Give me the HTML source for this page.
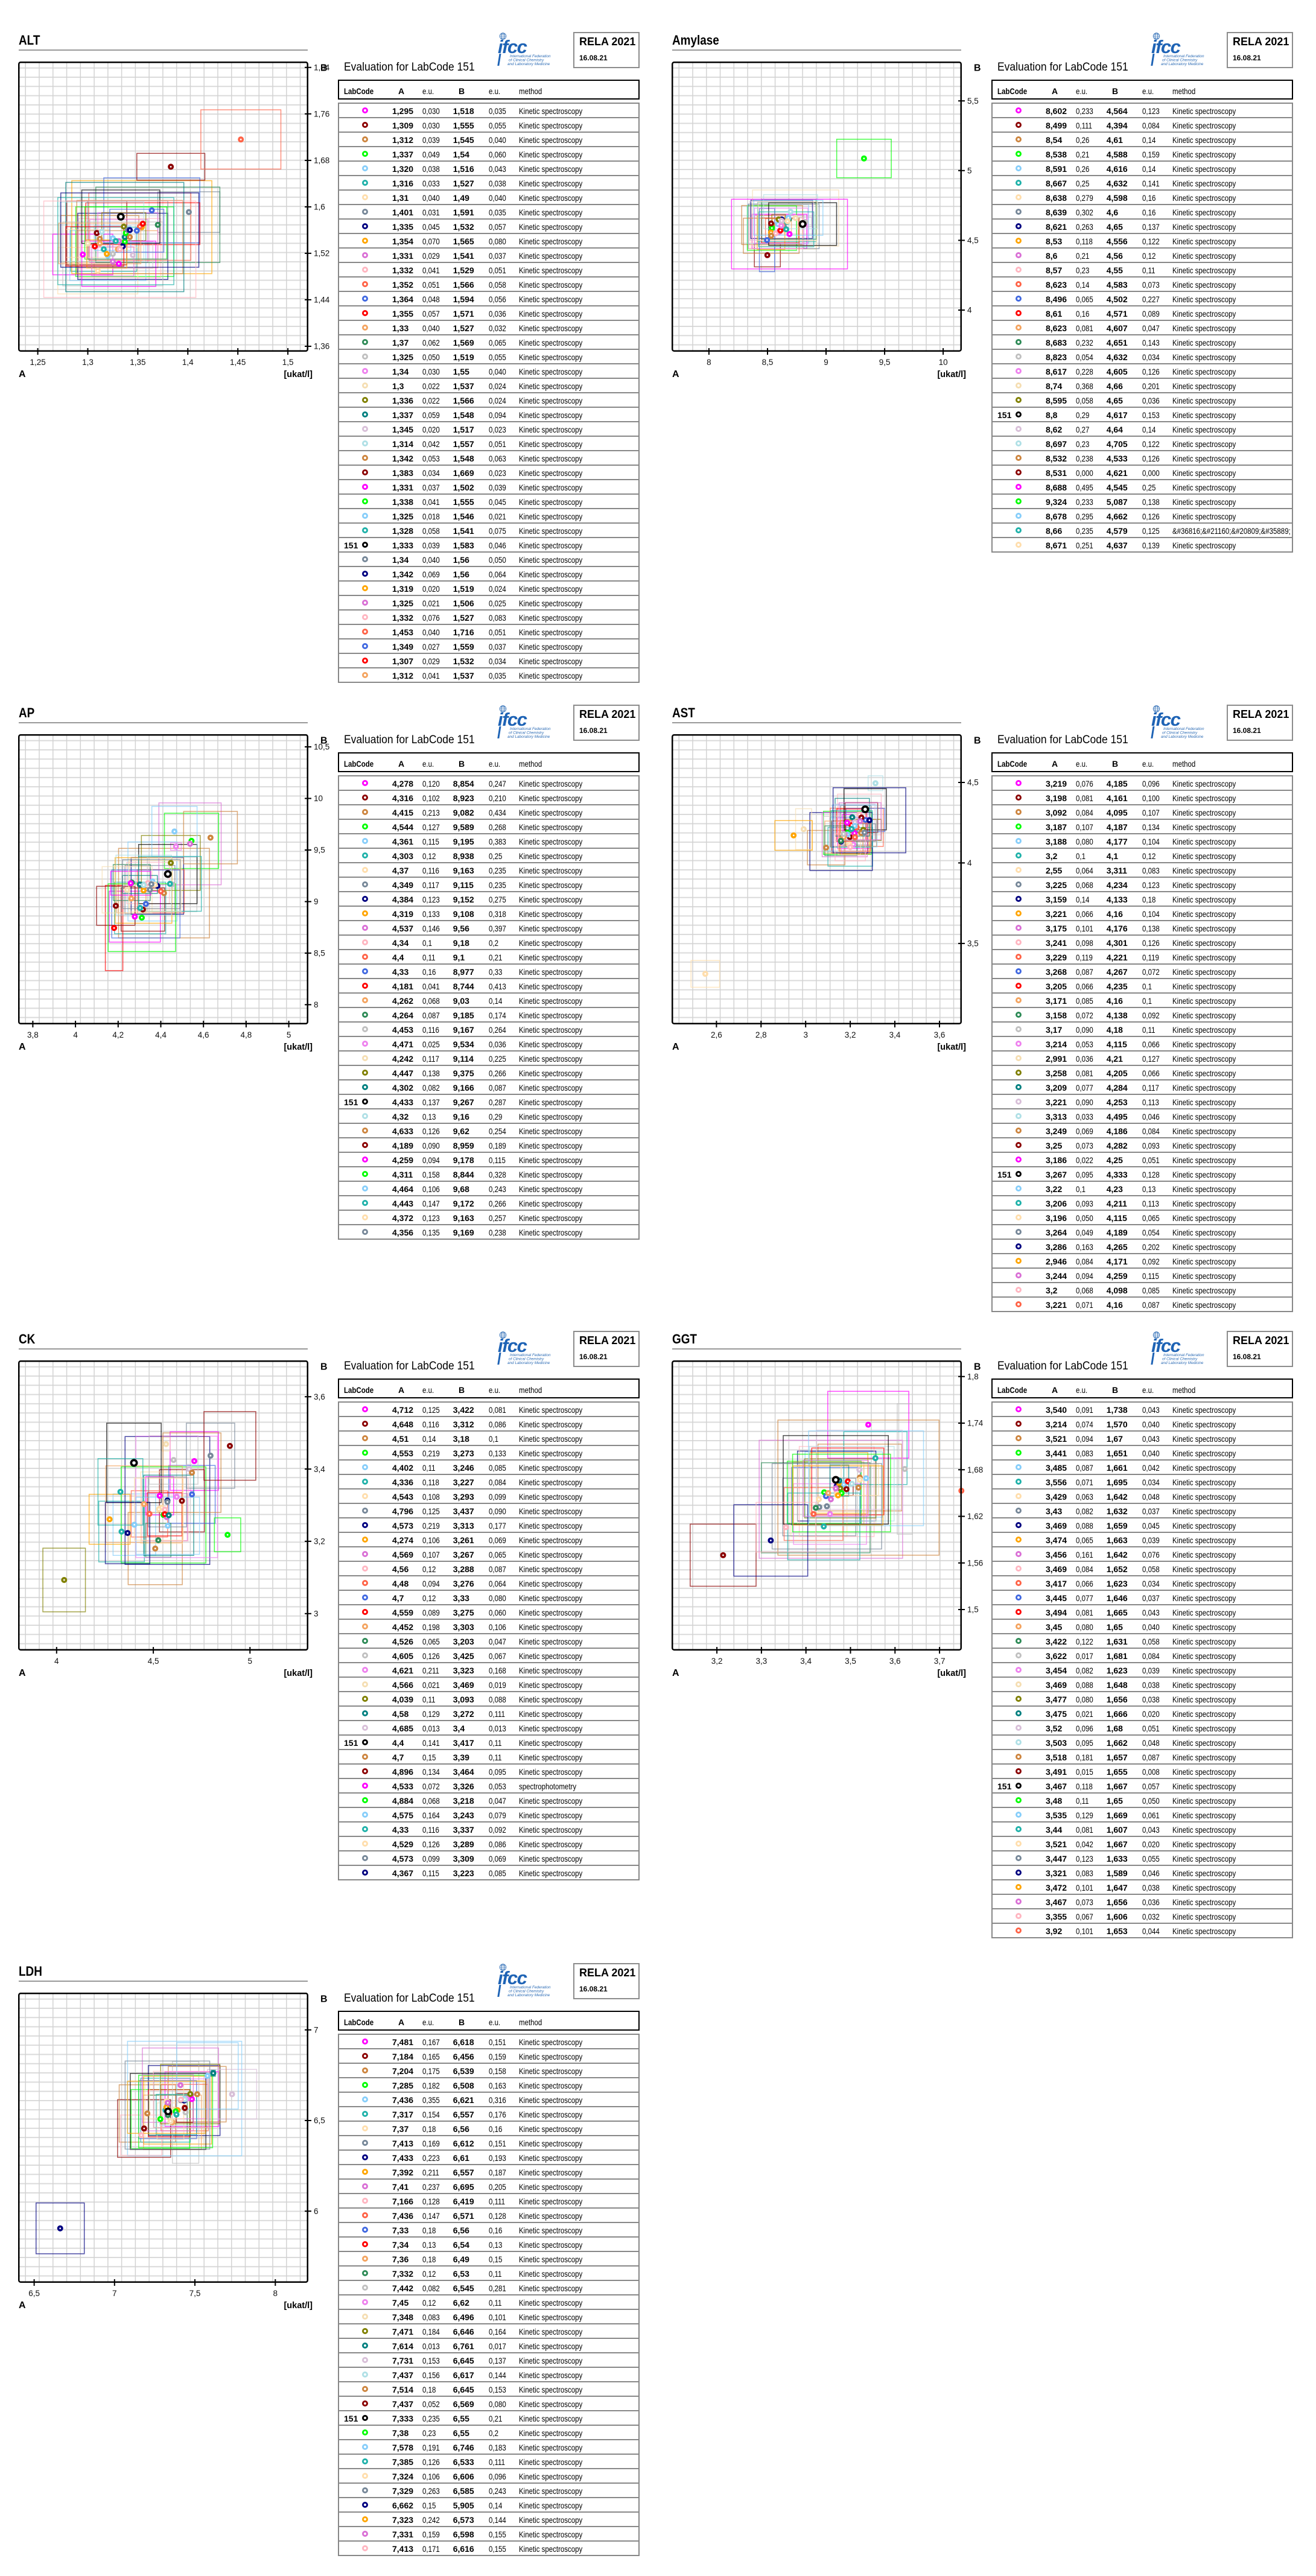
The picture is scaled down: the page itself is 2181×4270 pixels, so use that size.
<!DOCTYPE html>
<html><head><meta charset="utf-8">
<style>
*{margin:0;padding:0;box-sizing:border-box}
html,body{width:2181px;height:4270px;background:#fff;overflow:hidden}
body{position:relative;font-family:"Liberation Sans",Arial,Helvetica,sans-serif;color:#000}
.p{position:absolute;width:1090px;height:1080px}
.ti{position:absolute;left:31px;top:56.4px;font-size:22px;line-height:22px;font-weight:bold;transform:scaleX(.86);transform-origin:0 0;white-space:nowrap}
.ul{position:absolute;left:31px;top:81.7px;width:479px;height:2.6px;background:#999}
.g{position:absolute;left:31px;top:103px;width:479px;height:479px;background-image:linear-gradient(90deg,#d2d2d2 0,#d2d2d2 1.6px,transparent 1.6px),linear-gradient(180deg,#dadada 0,#dadada 2px,transparent 2px);background-size:22.77px 479px,479px 15.3px;background-position:10.5px 0,0 8.7px}
.ch{position:absolute;left:0;top:0;overflow:visible}
.ch text{font-family:"Liberation Sans",Arial,sans-serif}
.ev{position:absolute;left:570px;top:101.7px;font-size:19px;line-height:19px;transform:scaleX(.92);transform-origin:0 0;white-space:nowrap}
.lg{position:absolute;left:815px;top:50px}
.lg text{font-family:"Liberation Sans",Arial,sans-serif}
.rl{position:absolute;left:950px;top:53px;width:110px;height:60px;border:2px solid #8c8c8c}
.rl b{position:absolute;left:8px;white-space:nowrap}
.rl .x1{top:5.3px;font-size:18px;line-height:18px}
.rl .x2{top:35.1px;font-size:12px;line-height:12px}
.hb{position:absolute;left:560px;top:132.3px;width:500px;height:32.4px;border:2.5px solid #000}
.h{position:absolute;top:143.5px;font-size:14px;line-height:14px;white-space:nowrap}
.hs{transform:scaleX(.82);transform-origin:0 0}
.tb{position:absolute;left:560px;top:170px;width:500px;border:2px solid #888;border-bottom:0}
.r{position:relative;height:24px;border-bottom:2px solid #888;overflow:hidden}
.r>*{position:absolute;top:1px;line-height:22px;font-size:14px;white-space:nowrap}
.r i{top:6px;left:37.7px;width:10px;height:10px;border:3.7px solid;border-radius:50%;background:#fff}
.r strong{left:8px}
.r b:nth-of-type(1){left:88px}
.r b:nth-of-type(2){left:188.7px}
.r span{transform:scaleX(.82);transform-origin:0 0}
.r span:nth-of-type(1){left:138px}
.r span:nth-of-type(2){left:248.3px}
.r span:nth-of-type(3){left:298.2px}
</style></head><body>

<!-- ================= ALT ================= -->
<div class="p" style="left:0;top:0">
<div class="ti">ALT</div><div class="ul"></div><div class="g"></div>
<svg class="ch" width="560" height="640"><defs><clipPath id="c1"><rect x="31" y="103" width="479" height="479"/></clipPath><rect id="R1" x="-1" y="-1" width="2" height="2" fill="none" stroke-width="1.5" vector-effect="non-scaling-stroke"/><g id="d1" transform="scale(.00060314 .00103853)"><circle r="5"/><circle r="1.4" fill="#fff"/></g><g id="k1" transform="scale(.00060314 .00103853)"><circle r="6.5" fill="#000"/><circle r="2.8" fill="#fff"/></g></defs>
<g clip-path="url(#c1)"><g transform="matrix(1658 0 0 -962.9 -2009.9 1883.5)" stroke-opacity=".7">
<use href="#R1" transform="translate(1.295 1.518) scale(.03 .035)" stroke="#f0f"/>
<use href="#R1" transform="translate(1.309 1.555) scale(.03 .055)" stroke="#8b0000"/>
<use href="#R1" transform="translate(1.312 1.545) scale(.039 .04)" stroke="#cd853f"/>
<use href="#R1" transform="translate(1.337 1.54) scale(.049 .06)" stroke="#0f0"/>
<use href="#R1" transform="translate(1.32 1.516) scale(.038 .043)" stroke="#87cefa"/>
<use href="#R1" transform="translate(1.316 1.527) scale(.033 .038)" stroke="#20b2aa"/>
<use href="#R1" transform="translate(1.31 1.49) scale(.04 .04)" stroke="#ffdead"/>
<use href="#R1" transform="translate(1.401 1.591) scale(.031 .035)" stroke="#778899"/>
<use href="#R1" transform="translate(1.335 1.532) scale(.045 .057)" stroke="#000080"/>
<use href="#R1" transform="translate(1.354 1.565) scale(.07 .08)" stroke="#ffa500"/>
<use href="#R1" transform="translate(1.331 1.541) scale(.029 .037)" stroke="#da70d6"/>
<use href="#R1" transform="translate(1.332 1.529) scale(.041 .051)" stroke="#ffb6c1"/>
<use href="#R1" transform="translate(1.352 1.566) scale(.051 .058)" stroke="#ff6347"/>
<use href="#R1" transform="translate(1.364 1.594) scale(.048 .056)" stroke="#4169e1"/>
<use href="#R1" transform="translate(1.355 1.571) scale(.057 .036)" stroke="#f00"/>
<use href="#R1" transform="translate(1.33 1.527) scale(.04 .032)" stroke="#f4a460"/>
<use href="#R1" transform="translate(1.37 1.569) scale(.062 .065)" stroke="#2e8b57"/>
<use href="#R1" transform="translate(1.325 1.519) scale(.05 .055)" stroke="#c0c0c0"/>
<use href="#R1" transform="translate(1.34 1.55) scale(.03 .04)" stroke="#ee82ee"/>
<use href="#R1" transform="translate(1.3 1.537) scale(.022 .024)" stroke="#f5deb3"/>
<use href="#R1" transform="translate(1.336 1.566) scale(.022 .024)" stroke="#808000"/>
<use href="#R1" transform="translate(1.337 1.548) scale(.059 .094)" stroke="#008080"/>
<use href="#R1" transform="translate(1.345 1.517) scale(.02 .023)" stroke="#d8bfd8"/>
<use href="#R1" transform="translate(1.314 1.557) scale(.042 .051)" stroke="#b0e0e6"/>
<use href="#R1" transform="translate(1.342 1.548) scale(.053 .063)" stroke="#cd853f"/>
<use href="#R1" transform="translate(1.383 1.669) scale(.034 .023)" stroke="#8b0000"/>
<use href="#R1" transform="translate(1.331 1.502) scale(.037 .039)" stroke="#f0f"/>
<use href="#R1" transform="translate(1.338 1.555) scale(.041 .045)" stroke="#0f0"/>
<use href="#R1" transform="translate(1.325 1.546) scale(.018 .021)" stroke="#87cefa"/>
<use href="#R1" transform="translate(1.328 1.541) scale(.058 .075)" stroke="#20b2aa"/>
<use href="#R1" transform="translate(1.333 1.583) scale(.039 .046)" stroke="#000"/>
<use href="#R1" transform="translate(1.34 1.56) scale(.04 .05)" stroke="#778899"/>
<use href="#R1" transform="translate(1.342 1.56) scale(.069 .064)" stroke="#000080"/>
<use href="#R1" transform="translate(1.319 1.519) scale(.02 .024)" stroke="#ffa500"/>
<use href="#R1" transform="translate(1.325 1.506) scale(.021 .025)" stroke="#da70d6"/>
<use href="#R1" transform="translate(1.332 1.527) scale(.076 .083)" stroke="#ffb6c1"/>
<use href="#R1" transform="translate(1.453 1.716) scale(.04 .051)" stroke="#ff6347"/>
<use href="#R1" transform="translate(1.349 1.559) scale(.027 .037)" stroke="#4169e1"/>
<use href="#R1" transform="translate(1.307 1.532) scale(.029 .034)" stroke="#f00"/>
<use href="#R1" transform="translate(1.312 1.537) scale(.041 .035)" stroke="#f4a460"/>
</g></g>
<g transform="matrix(1658 0 0 -962.9 -2009.9 1883.5)">
<use href="#d1" x="1.295" y="1.518" fill="#f0f"/><use href="#d1" x="1.309" y="1.555" fill="#8b0000"/><use href="#d1" x="1.312" y="1.545" fill="#cd853f"/><use href="#d1" x="1.337" y="1.54" fill="#0f0"/><use href="#d1" x="1.32" y="1.516" fill="#87cefa"/><use href="#d1" x="1.316" y="1.527" fill="#20b2aa"/><use href="#d1" x="1.31" y="1.49" fill="#ffdead"/><use href="#d1" x="1.401" y="1.591" fill="#778899"/><use href="#d1" x="1.335" y="1.532" fill="#000080"/><use href="#d1" x="1.354" y="1.565" fill="#ffa500"/><use href="#d1" x="1.331" y="1.541" fill="#da70d6"/><use href="#d1" x="1.332" y="1.529" fill="#ffb6c1"/><use href="#d1" x="1.352" y="1.566" fill="#ff6347"/><use href="#d1" x="1.364" y="1.594" fill="#4169e1"/><use href="#d1" x="1.355" y="1.571" fill="#f00"/><use href="#d1" x="1.33" y="1.527" fill="#f4a460"/><use href="#d1" x="1.37" y="1.569" fill="#2e8b57"/><use href="#d1" x="1.325" y="1.519" fill="#c0c0c0"/><use href="#d1" x="1.34" y="1.55" fill="#ee82ee"/><use href="#d1" x="1.3" y="1.537" fill="#f5deb3"/><use href="#d1" x="1.336" y="1.566" fill="#808000"/><use href="#d1" x="1.337" y="1.548" fill="#008080"/><use href="#d1" x="1.345" y="1.517" fill="#d8bfd8"/><use href="#d1" x="1.314" y="1.557" fill="#b0e0e6"/><use href="#d1" x="1.342" y="1.548" fill="#cd853f"/><use href="#d1" x="1.383" y="1.669" fill="#8b0000"/><use href="#d1" x="1.331" y="1.502" fill="#f0f"/><use href="#d1" x="1.338" y="1.555" fill="#0f0"/><use href="#d1" x="1.325" y="1.546" fill="#87cefa"/><use href="#d1" x="1.328" y="1.541" fill="#20b2aa"/><use href="#d1" x="1.34" y="1.56" fill="#778899"/><use href="#d1" x="1.342" y="1.56" fill="#000080"/><use href="#d1" x="1.319" y="1.519" fill="#ffa500"/><use href="#d1" x="1.325" y="1.506" fill="#da70d6"/><use href="#d1" x="1.332" y="1.527" fill="#ffb6c1"/><use href="#d1" x="1.453" y="1.716" fill="#ff6347"/><use href="#d1" x="1.349" y="1.559" fill="#4169e1"/><use href="#d1" x="1.307" y="1.532" fill="#f00"/><use href="#d1" x="1.312" y="1.537" fill="#f4a460"/>
<use href="#k1" x="1.333" y="1.583"/>
</g>
<rect x="31.25" y="103.25" width="478.5" height="478.5" rx="3" fill="none" stroke="#000" stroke-width="2.5"/>
<path d="M505 111.8h11M505 188.8h11M505 265.9h11M505 342.9h11M505 419.9h11M505 496.9h11M505 574h11M62.6 577v11M145.5 577v11M228.4 577v11M311.3 577v11M394.2 577v11M477.1 577v11" stroke="#000" stroke-width="2"/>
<g font-size="13.5" fill="#111"><text x="520" y="116.5">1,84</text><text x="520" y="193.5">1,76</text><text x="520" y="270.6">1,68</text><text x="520" y="347.6">1,6</text><text x="520" y="424.6">1,52</text><text x="520" y="501.6">1,44</text><text x="520" y="578.7">1,36</text>
<g text-anchor="middle"><text x="62.6" y="605">1,25</text><text x="145.5" y="605">1,3</text><text x="228.4" y="605">1,35</text><text x="311.3" y="605">1,4</text><text x="394.2" y="605">1,45</text><text x="477.1" y="605">1,5</text></g></g>
<g font-weight="bold"><text x="531" y="117.5" font-size="16">B</text><text x="31" y="625" font-size="16">A</text><text x="518" y="625" font-size="14.5" text-anchor="end">[ukat/l]</text></g>
</svg>
<div class="ev">Evaluation for LabCode 151</div>
<svg class="lg" width="115" height="62"><g fill="none" stroke="#2d6cb5" stroke-width=".8"><circle cx="18.5" cy="10" r="5.3"/><ellipse cx="18.5" cy="10" rx="2.4" ry="5.3"/><path d="M13.2 10h10.6M14 7h9M14 13h9"/></g><text x="10" y="38" font-size="31" font-weight="bold" font-style="italic" fill="#1e63b5" letter-spacing="-1.5">ifcc</text><path d="M12.5 39l-3.2 20h3l3.2-20z" fill="#1e63b5"/><g font-size="6.4" font-style="italic" fill="#2d6cb5"><text x="30" y="45">International Federation</text><text x="28" y="51.5">of Clinical Chemistry</text><text x="26" y="58">and Laboratory Medicine</text></g></svg>
<div class="rl"><b class="x1">RELA 2021</b><b class="x2">16.08.21</b></div>
<div class="hb"></div>
<b class="h hs" style="left:570px">LabCode</b><b class="h" style="left:660px">A</b><span class="h hs" style="left:700px">e.u.</span><b class="h" style="left:760px">B</b><span class="h hs" style="left:810px">e.u.</span><span class="h hs" style="left:860px">method</span>
<div class="tb">
<div class="r"><i style="border-color:#f0f"></i><b>1,295</b><span>0,030</span><b>1,518</b><span>0,035</span><span>Kinetic spectroscopy</span></div>
<div class="r"><i style="border-color:#8b0000"></i><b>1,309</b><span>0,030</span><b>1,555</b><span>0,055</span><span>Kinetic spectroscopy</span></div>
<div class="r"><i style="border-color:#cd853f"></i><b>1,312</b><span>0,039</span><b>1,545</b><span>0,040</span><span>Kinetic spectroscopy</span></div>
<div class="r"><i style="border-color:#0f0"></i><b>1,337</b><span>0,049</span><b>1,54</b><span>0,060</span><span>Kinetic spectroscopy</span></div>
<div class="r"><i style="border-color:#87cefa"></i><b>1,320</b><span>0,038</span><b>1,516</b><span>0,043</span><span>Kinetic spectroscopy</span></div>
<div class="r"><i style="border-color:#20b2aa"></i><b>1,316</b><span>0,033</span><b>1,527</b><span>0,038</span><span>Kinetic spectroscopy</span></div>
<div class="r"><i style="border-color:#ffdead"></i><b>1,31</b><span>0,040</span><b>1,49</b><span>0,040</span><span>Kinetic spectroscopy</span></div>
<div class="r"><i style="border-color:#778899"></i><b>1,401</b><span>0,031</span><b>1,591</b><span>0,035</span><span>Kinetic spectroscopy</span></div>
<div class="r"><i style="border-color:#000080"></i><b>1,335</b><span>0,045</span><b>1,532</b><span>0,057</span><span>Kinetic spectroscopy</span></div>
<div class="r"><i style="border-color:#ffa500"></i><b>1,354</b><span>0,070</span><b>1,565</b><span>0,080</span><span>Kinetic spectroscopy</span></div>
<div class="r"><i style="border-color:#da70d6"></i><b>1,331</b><span>0,029</span><b>1,541</b><span>0,037</span><span>Kinetic spectroscopy</span></div>
<div class="r"><i style="border-color:#ffb6c1"></i><b>1,332</b><span>0,041</span><b>1,529</b><span>0,051</span><span>Kinetic spectroscopy</span></div>
<div class="r"><i style="border-color:#ff6347"></i><b>1,352</b><span>0,051</span><b>1,566</b><span>0,058</span><span>Kinetic spectroscopy</span></div>
<div class="r"><i style="border-color:#4169e1"></i><b>1,364</b><span>0,048</span><b>1,594</b><span>0,056</span><span>Kinetic spectroscopy</span></div>
<div class="r"><i style="border-color:#f00"></i><b>1,355</b><span>0,057</span><b>1,571</b><span>0,036</span><span>Kinetic spectroscopy</span></div>
<div class="r"><i style="border-color:#f4a460"></i><b>1,33</b><span>0,040</span><b>1,527</b><span>0,032</span><span>Kinetic spectroscopy</span></div>
<div class="r"><i style="border-color:#2e8b57"></i><b>1,37</b><span>0,062</span><b>1,569</b><span>0,065</span><span>Kinetic spectroscopy</span></div>
<div class="r"><i style="border-color:#c0c0c0"></i><b>1,325</b><span>0,050</span><b>1,519</b><span>0,055</span><span>Kinetic spectroscopy</span></div>
<div class="r"><i style="border-color:#ee82ee"></i><b>1,34</b><span>0,030</span><b>1,55</b><span>0,040</span><span>Kinetic spectroscopy</span></div>
<div class="r"><i style="border-color:#f5deb3"></i><b>1,3</b><span>0,022</span><b>1,537</b><span>0,024</span><span>Kinetic spectroscopy</span></div>
<div class="r"><i style="border-color:#808000"></i><b>1,336</b><span>0,022</span><b>1,566</b><span>0,024</span><span>Kinetic spectroscopy</span></div>
<div class="r"><i style="border-color:#008080"></i><b>1,337</b><span>0,059</span><b>1,548</b><span>0,094</span><span>Kinetic spectroscopy</span></div>
<div class="r"><i style="border-color:#d8bfd8"></i><b>1,345</b><span>0,020</span><b>1,517</b><span>0,023</span><span>Kinetic spectroscopy</span></div>
<div class="r"><i style="border-color:#b0e0e6"></i><b>1,314</b><span>0,042</span><b>1,557</b><span>0,051</span><span>Kinetic spectroscopy</span></div>
<div class="r"><i style="border-color:#cd853f"></i><b>1,342</b><span>0,053</span><b>1,548</b><span>0,063</span><span>Kinetic spectroscopy</span></div>
<div class="r"><i style="border-color:#8b0000"></i><b>1,383</b><span>0,034</span><b>1,669</b><span>0,023</span><span>Kinetic spectroscopy</span></div>
<div class="r"><i style="border-color:#f0f"></i><b>1,331</b><span>0,037</span><b>1,502</b><span>0,039</span><span>Kinetic spectroscopy</span></div>
<div class="r"><i style="border-color:#0f0"></i><b>1,338</b><span>0,041</span><b>1,555</b><span>0,045</span><span>Kinetic spectroscopy</span></div>
<div class="r"><i style="border-color:#87cefa"></i><b>1,325</b><span>0,018</span><b>1,546</b><span>0,021</span><span>Kinetic spectroscopy</span></div>
<div class="r"><i style="border-color:#20b2aa"></i><b>1,328</b><span>0,058</span><b>1,541</b><span>0,075</span><span>Kinetic spectroscopy</span></div>
<div class="r"><strong>151</strong><i style="border-color:#000"></i><b>1,333</b><span>0,039</span><b>1,583</b><span>0,046</span><span>Kinetic spectroscopy</span></div>
<div class="r"><i style="border-color:#778899"></i><b>1,34</b><span>0,040</span><b>1,56</b><span>0,050</span><span>Kinetic spectroscopy</span></div>
<div class="r"><i style="border-color:#000080"></i><b>1,342</b><span>0,069</span><b>1,56</b><span>0,064</span><span>Kinetic spectroscopy</span></div>
<div class="r"><i style="border-color:#ffa500"></i><b>1,319</b><span>0,020</span><b>1,519</b><span>0,024</span><span>Kinetic spectroscopy</span></div>
<div class="r"><i style="border-color:#da70d6"></i><b>1,325</b><span>0,021</span><b>1,506</b><span>0,025</span><span>Kinetic spectroscopy</span></div>
<div class="r"><i style="border-color:#ffb6c1"></i><b>1,332</b><span>0,076</span><b>1,527</b><span>0,083</span><span>Kinetic spectroscopy</span></div>
<div class="r"><i style="border-color:#ff6347"></i><b>1,453</b><span>0,040</span><b>1,716</b><span>0,051</span><span>Kinetic spectroscopy</span></div>
<div class="r"><i style="border-color:#4169e1"></i><b>1,349</b><span>0,027</span><b>1,559</b><span>0,037</span><span>Kinetic spectroscopy</span></div>
<div class="r"><i style="border-color:#f00"></i><b>1,307</b><span>0,029</span><b>1,532</b><span>0,034</span><span>Kinetic spectroscopy</span></div>
<div class="r"><i style="border-color:#f4a460"></i><b>1,312</b><span>0,041</span><b>1,537</b><span>0,035</span><span>Kinetic spectroscopy</span></div>
</div>
</div>

<!-- ================= Amylase ================= -->
<div class="p" style="left:1083px;top:0">
<div class="ti">Amylase</div><div class="ul"></div><div class="g"></div>
<svg class="ch" width="560" height="640"><defs><clipPath id="c2"><rect x="31" y="103" width="479" height="479"/></clipPath><rect id="R2" x="-1" y="-1" width="2" height="2" fill="none" stroke-width="1.5" vector-effect="non-scaling-stroke"/><g id="d2" transform="scale(.005152 .0043253)"><circle r="5"/><circle r="1.4" fill="#fff"/></g><g id="k2" transform="scale(.005152 .0043253)"><circle r="6.5" fill="#000"/><circle r="2.8" fill="#fff"/></g></defs>
<g clip-path="url(#c2)"><g transform="matrix(194.1 0 0 -231.2 -1460.9 1438.8)" stroke-opacity=".7">
<use href="#R2" transform="translate(8.602 4.564) scale(.233 .123)" stroke="#f0f"/>
<use href="#R2" transform="translate(8.499 4.394) scale(.111 .084)" stroke="#8b0000"/>
<use href="#R2" transform="translate(8.54 4.61) scale(.26 .14)" stroke="#cd853f"/>
<use href="#R2" transform="translate(8.538 4.588) scale(.21 .159)" stroke="#0f0"/>
<use href="#R2" transform="translate(8.591 4.616) scale(.26 .14)" stroke="#87cefa"/>
<use href="#R2" transform="translate(8.667 4.632) scale(.25 .141)" stroke="#20b2aa"/>
<use href="#R2" transform="translate(8.638 4.598) scale(.279 .16)" stroke="#ffdead"/>
<use href="#R2" transform="translate(8.639 4.6) scale(.302 .16)" stroke="#778899"/>
<use href="#R2" transform="translate(8.621 4.65) scale(.263 .137)" stroke="#000080"/>
<use href="#R2" transform="translate(8.53 4.556) scale(.118 .122)" stroke="#ffa500"/>
<use href="#R2" transform="translate(8.6 4.56) scale(.21 .12)" stroke="#da70d6"/>
<use href="#R2" transform="translate(8.57 4.55) scale(.23 .11)" stroke="#ffb6c1"/>
<use href="#R2" transform="translate(8.623 4.583) scale(.14 .073)" stroke="#ff6347"/>
<use href="#R2" transform="translate(8.496 4.502) scale(.065 .227)" stroke="#4169e1"/>
<use href="#R2" transform="translate(8.61 4.571) scale(.16 .089)" stroke="#f00"/>
<use href="#R2" transform="translate(8.623 4.607) scale(.081 .047)" stroke="#f4a460"/>
<use href="#R2" transform="translate(8.683 4.651) scale(.232 .143)" stroke="#2e8b57"/>
<use href="#R2" transform="translate(8.823 4.632) scale(.054 .034)" stroke="#c0c0c0"/>
<use href="#R2" transform="translate(8.617 4.605) scale(.228 .126)" stroke="#ee82ee"/>
<use href="#R2" transform="translate(8.74 4.66) scale(.368 .201)" stroke="#f5deb3"/>
<use href="#R2" transform="translate(8.595 4.65) scale(.058 .036)" stroke="#808000"/>
<use href="#R2" transform="translate(8.8 4.617) scale(.29 .153)" stroke="#000"/>
<use href="#R2" transform="translate(8.62 4.64) scale(.27 .14)" stroke="#d8bfd8"/>
<use href="#R2" transform="translate(8.697 4.705) scale(.23 .122)" stroke="#b0e0e6"/>
<use href="#R2" transform="translate(8.532 4.533) scale(.238 .126)" stroke="#cd853f"/>
<use href="#R2" transform="translate(8.688 4.545) scale(.495 .25)" stroke="#f0f"/>
<use href="#R2" transform="translate(9.324 5.087) scale(.233 .138)" stroke="#0f0"/>
<use href="#R2" transform="translate(8.678 4.662) scale(.295 .126)" stroke="#87cefa"/>
<use href="#R2" transform="translate(8.66 4.579) scale(.235 .125)" stroke="#20b2aa"/>
<use href="#R2" transform="translate(8.671 4.637) scale(.251 .139)" stroke="#ffdead"/>
</g></g>
<g transform="matrix(194.1 0 0 -231.2 -1460.9 1438.8)">
<use href="#d2" x="8.602" y="4.564" fill="#f0f"/><use href="#d2" x="8.499" y="4.394" fill="#8b0000"/><use href="#d2" x="8.54" y="4.61" fill="#cd853f"/><use href="#d2" x="8.538" y="4.588" fill="#0f0"/><use href="#d2" x="8.591" y="4.616" fill="#87cefa"/><use href="#d2" x="8.667" y="4.632" fill="#20b2aa"/><use href="#d2" x="8.638" y="4.598" fill="#ffdead"/><use href="#d2" x="8.639" y="4.6" fill="#778899"/><use href="#d2" x="8.621" y="4.65" fill="#000080"/><use href="#d2" x="8.53" y="4.556" fill="#ffa500"/><use href="#d2" x="8.6" y="4.56" fill="#da70d6"/><use href="#d2" x="8.57" y="4.55" fill="#ffb6c1"/><use href="#d2" x="8.623" y="4.583" fill="#ff6347"/><use href="#d2" x="8.496" y="4.502" fill="#4169e1"/><use href="#d2" x="8.61" y="4.571" fill="#f00"/><use href="#d2" x="8.623" y="4.607" fill="#f4a460"/><use href="#d2" x="8.683" y="4.651" fill="#2e8b57"/><use href="#d2" x="8.823" y="4.632" fill="#c0c0c0"/><use href="#d2" x="8.617" y="4.605" fill="#ee82ee"/><use href="#d2" x="8.74" y="4.66" fill="#f5deb3"/><use href="#d2" x="8.595" y="4.65" fill="#808000"/><use href="#d2" x="8.62" y="4.64" fill="#d8bfd8"/><use href="#d2" x="8.697" y="4.705" fill="#b0e0e6"/><use href="#d2" x="8.532" y="4.533" fill="#cd853f"/><use href="#d2" x="8.531" y="4.621" fill="#8b0000"/><use href="#d2" x="8.688" y="4.545" fill="#f0f"/><use href="#d2" x="9.324" y="5.087" fill="#0f0"/><use href="#d2" x="8.678" y="4.662" fill="#87cefa"/><use href="#d2" x="8.66" y="4.579" fill="#20b2aa"/><use href="#d2" x="8.671" y="4.637" fill="#ffdead"/>
<use href="#k2" x="8.8" y="4.617"/>
</g>
<rect x="31.25" y="103.25" width="478.5" height="478.5" rx="3" fill="none" stroke="#000" stroke-width="2.5"/>
<path d="M505 167.2h11M505 282.8h11M505 398.4h11M505 514h11M91.9 577v11M189 577v11M286 577v11M383.1 577v11M480.1 577v11" stroke="#000" stroke-width="2"/>
<g font-size="13.5" fill="#111"><text x="520" y="171.9">5,5</text><text x="520" y="287.5">5</text><text x="520" y="403.1">4,5</text><text x="520" y="518.7">4</text>
<g text-anchor="middle"><text x="91.9" y="605">8</text><text x="189" y="605">8,5</text><text x="286" y="605">9</text><text x="383.1" y="605">9,5</text><text x="480.1" y="605">10</text></g></g>
<g font-weight="bold"><text x="531" y="117.5" font-size="16">B</text><text x="31" y="625" font-size="16">A</text><text x="518" y="625" font-size="14.5" text-anchor="end">[ukat/l]</text></g>
</svg>
<div class="ev">Evaluation for LabCode 151</div>
<svg class="lg" width="115" height="62"><g fill="none" stroke="#2d6cb5" stroke-width=".8"><circle cx="18.5" cy="10" r="5.3"/><ellipse cx="18.5" cy="10" rx="2.4" ry="5.3"/><path d="M13.2 10h10.6M14 7h9M14 13h9"/></g><text x="10" y="38" font-size="31" font-weight="bold" font-style="italic" fill="#1e63b5" letter-spacing="-1.5">ifcc</text><path d="M12.5 39l-3.2 20h3l3.2-20z" fill="#1e63b5"/><g font-size="6.4" font-style="italic" fill="#2d6cb5"><text x="30" y="45">International Federation</text><text x="28" y="51.5">of Clinical Chemistry</text><text x="26" y="58">and Laboratory Medicine</text></g></svg>
<div class="rl"><b class="x1">RELA 2021</b><b class="x2">16.08.21</b></div>
<div class="hb"></div>
<b class="h hs" style="left:570px">LabCode</b><b class="h" style="left:660px">A</b><span class="h hs" style="left:700px">e.u.</span><b class="h" style="left:760px">B</b><span class="h hs" style="left:810px">e.u.</span><span class="h hs" style="left:860px">method</span>
<div class="tb">
<div class="r"><i style="border-color:#f0f"></i><b>8,602</b><span>0,233</span><b>4,564</b><span>0,123</span><span>Kinetic spectroscopy</span></div>
<div class="r"><i style="border-color:#8b0000"></i><b>8,499</b><span>0,111</span><b>4,394</b><span>0,084</span><span>Kinetic spectroscopy</span></div>
<div class="r"><i style="border-color:#cd853f"></i><b>8,54</b><span>0,26</span><b>4,61</b><span>0,14</span><span>Kinetic spectroscopy</span></div>
<div class="r"><i style="border-color:#0f0"></i><b>8,538</b><span>0,21</span><b>4,588</b><span>0,159</span><span>Kinetic spectroscopy</span></div>
<div class="r"><i style="border-color:#87cefa"></i><b>8,591</b><span>0,26</span><b>4,616</b><span>0,14</span><span>Kinetic spectroscopy</span></div>
<div class="r"><i style="border-color:#20b2aa"></i><b>8,667</b><span>0,25</span><b>4,632</b><span>0,141</span><span>Kinetic spectroscopy</span></div>
<div class="r"><i style="border-color:#ffdead"></i><b>8,638</b><span>0,279</span><b>4,598</b><span>0,16</span><span>Kinetic spectroscopy</span></div>
<div class="r"><i style="border-color:#778899"></i><b>8,639</b><span>0,302</span><b>4,6</b><span>0,16</span><span>Kinetic spectroscopy</span></div>
<div class="r"><i style="border-color:#000080"></i><b>8,621</b><span>0,263</span><b>4,65</b><span>0,137</span><span>Kinetic spectroscopy</span></div>
<div class="r"><i style="border-color:#ffa500"></i><b>8,53</b><span>0,118</span><b>4,556</b><span>0,122</span><span>Kinetic spectroscopy</span></div>
<div class="r"><i style="border-color:#da70d6"></i><b>8,6</b><span>0,21</span><b>4,56</b><span>0,12</span><span>Kinetic spectroscopy</span></div>
<div class="r"><i style="border-color:#ffb6c1"></i><b>8,57</b><span>0,23</span><b>4,55</b><span>0,11</span><span>Kinetic spectroscopy</span></div>
<div class="r"><i style="border-color:#ff6347"></i><b>8,623</b><span>0,14</span><b>4,583</b><span>0,073</span><span>Kinetic spectroscopy</span></div>
<div class="r"><i style="border-color:#4169e1"></i><b>8,496</b><span>0,065</span><b>4,502</b><span>0,227</span><span>Kinetic spectroscopy</span></div>
<div class="r"><i style="border-color:#f00"></i><b>8,61</b><span>0,16</span><b>4,571</b><span>0,089</span><span>Kinetic spectroscopy</span></div>
<div class="r"><i style="border-color:#f4a460"></i><b>8,623</b><span>0,081</span><b>4,607</b><span>0,047</span><span>Kinetic spectroscopy</span></div>
<div class="r"><i style="border-color:#2e8b57"></i><b>8,683</b><span>0,232</span><b>4,651</b><span>0,143</span><span>Kinetic spectroscopy</span></div>
<div class="r"><i style="border-color:#c0c0c0"></i><b>8,823</b><span>0,054</span><b>4,632</b><span>0,034</span><span>Kinetic spectroscopy</span></div>
<div class="r"><i style="border-color:#ee82ee"></i><b>8,617</b><span>0,228</span><b>4,605</b><span>0,126</span><span>Kinetic spectroscopy</span></div>
<div class="r"><i style="border-color:#f5deb3"></i><b>8,74</b><span>0,368</span><b>4,66</b><span>0,201</span><span>Kinetic spectroscopy</span></div>
<div class="r"><i style="border-color:#808000"></i><b>8,595</b><span>0,058</span><b>4,65</b><span>0,036</span><span>Kinetic spectroscopy</span></div>
<div class="r"><strong>151</strong><i style="border-color:#000"></i><b>8,8</b><span>0,29</span><b>4,617</b><span>0,153</span><span>Kinetic spectroscopy</span></div>
<div class="r"><i style="border-color:#d8bfd8"></i><b>8,62</b><span>0,27</span><b>4,64</b><span>0,14</span><span>Kinetic spectroscopy</span></div>
<div class="r"><i style="border-color:#b0e0e6"></i><b>8,697</b><span>0,23</span><b>4,705</b><span>0,122</span><span>Kinetic spectroscopy</span></div>
<div class="r"><i style="border-color:#cd853f"></i><b>8,532</b><span>0,238</span><b>4,533</b><span>0,126</span><span>Kinetic spectroscopy</span></div>
<div class="r"><i style="border-color:#8b0000"></i><b>8,531</b><span>0,000</span><b>4,621</b><span>0,000</span><span>Kinetic spectroscopy</span></div>
<div class="r"><i style="border-color:#f0f"></i><b>8,688</b><span>0,495</span><b>4,545</b><span>0,25</span><span>Kinetic spectroscopy</span></div>
<div class="r"><i style="border-color:#0f0"></i><b>9,324</b><span>0,233</span><b>5,087</b><span>0,138</span><span>Kinetic spectroscopy</span></div>
<div class="r"><i style="border-color:#87cefa"></i><b>8,678</b><span>0,295</span><b>4,662</b><span>0,126</span><span>Kinetic spectroscopy</span></div>
<div class="r"><i style="border-color:#20b2aa"></i><b>8,66</b><span>0,235</span><b>4,579</b><span>0,125</span><span>&amp;#36816;&amp;#21160;&amp;#20809;&amp;#35889;</span></div>
<div class="r"><i style="border-color:#ffdead"></i><b>8,671</b><span>0,251</span><b>4,637</b><span>0,139</span><span>Kinetic spectroscopy</span></div>
</div>
</div>

<!-- ================= AP ================= -->
<div class="p" style="left:0;top:1115px">
<div class="ti">AP</div><div class="ul"></div><div class="g"></div>
<svg class="ch" width="560" height="640"><defs><clipPath id="c3"><rect x="31" y="103" width="479" height="479"/></clipPath><rect id="R3" x="-1" y="-1" width="2" height="2" fill="none" stroke-width="1.5" vector-effect="non-scaling-stroke"/><g id="d3" transform="scale(.0028289 .0058493)"><circle r="5"/><circle r="1.4" fill="#fff"/></g><g id="k3" transform="scale(.0028289 .0058493)"><circle r="6.5" fill="#000"/><circle r="2.8" fill="#fff"/></g></defs>
<g clip-path="url(#c3)"><g transform="matrix(353.5 0 0 -170.96 -1288.9 1918.1)" stroke-opacity=".7">
<use href="#R3" transform="translate(4.278 8.854) scale(.12 .247)" stroke="#f0f"/>
<use href="#R3" transform="translate(4.316 8.923) scale(.102 .21)" stroke="#8b0000"/>
<use href="#R3" transform="translate(4.415 9.082) scale(.213 .434)" stroke="#cd853f"/>
<use href="#R3" transform="translate(4.544 9.589) scale(.127 .268)" stroke="#0f0"/>
<use href="#R3" transform="translate(4.361 9.195) scale(.115 .383)" stroke="#87cefa"/>
<use href="#R3" transform="translate(4.303 8.938) scale(.12 .25)" stroke="#20b2aa"/>
<use href="#R3" transform="translate(4.37 9.163) scale(.116 .235)" stroke="#ffdead"/>
<use href="#R3" transform="translate(4.349 9.115) scale(.117 .235)" stroke="#778899"/>
<use href="#R3" transform="translate(4.384 9.152) scale(.123 .275)" stroke="#000080"/>
<use href="#R3" transform="translate(4.319 9.108) scale(.133 .318)" stroke="#ffa500"/>
<use href="#R3" transform="translate(4.537 9.56) scale(.146 .397)" stroke="#da70d6"/>
<use href="#R3" transform="translate(4.34 9.18) scale(.1 .2)" stroke="#ffb6c1"/>
<use href="#R3" transform="translate(4.4 9.1) scale(.11 .21)" stroke="#ff6347"/>
<use href="#R3" transform="translate(4.33 8.977) scale(.16 .33)" stroke="#4169e1"/>
<use href="#R3" transform="translate(4.181 8.744) scale(.041 .413)" stroke="#f00"/>
<use href="#R3" transform="translate(4.262 9.03) scale(.068 .14)" stroke="#f4a460"/>
<use href="#R3" transform="translate(4.264 9.185) scale(.087 .174)" stroke="#2e8b57"/>
<use href="#R3" transform="translate(4.453 9.167) scale(.116 .264)" stroke="#c0c0c0"/>
<use href="#R3" transform="translate(4.471 9.534) scale(.025 .036)" stroke="#ee82ee"/>
<use href="#R3" transform="translate(4.242 9.114) scale(.117 .225)" stroke="#f5deb3"/>
<use href="#R3" transform="translate(4.447 9.375) scale(.138 .266)" stroke="#808000"/>
<use href="#R3" transform="translate(4.302 9.166) scale(.082 .087)" stroke="#008080"/>
<use href="#R3" transform="translate(4.433 9.267) scale(.137 .287)" stroke="#000"/>
<use href="#R3" transform="translate(4.32 9.16) scale(.13 .29)" stroke="#b0e0e6"/>
<use href="#R3" transform="translate(4.633 9.62) scale(.126 .254)" stroke="#cd853f"/>
<use href="#R3" transform="translate(4.189 8.959) scale(.09 .189)" stroke="#8b0000"/>
<use href="#R3" transform="translate(4.259 9.178) scale(.094 .115)" stroke="#f0f"/>
<use href="#R3" transform="translate(4.311 8.844) scale(.158 .328)" stroke="#0f0"/>
<use href="#R3" transform="translate(4.464 9.68) scale(.106 .243)" stroke="#87cefa"/>
<use href="#R3" transform="translate(4.443 9.172) scale(.147 .266)" stroke="#20b2aa"/>
<use href="#R3" transform="translate(4.372 9.163) scale(.123 .257)" stroke="#ffdead"/>
<use href="#R3" transform="translate(4.356 9.169) scale(.135 .238)" stroke="#778899"/>
</g></g>
<g transform="matrix(353.5 0 0 -170.96 -1288.9 1918.1)">
<use href="#d3" x="4.278" y="8.854" fill="#f0f"/><use href="#d3" x="4.316" y="8.923" fill="#8b0000"/><use href="#d3" x="4.415" y="9.082" fill="#cd853f"/><use href="#d3" x="4.544" y="9.589" fill="#0f0"/><use href="#d3" x="4.361" y="9.195" fill="#87cefa"/><use href="#d3" x="4.303" y="8.938" fill="#20b2aa"/><use href="#d3" x="4.37" y="9.163" fill="#ffdead"/><use href="#d3" x="4.349" y="9.115" fill="#778899"/><use href="#d3" x="4.384" y="9.152" fill="#000080"/><use href="#d3" x="4.319" y="9.108" fill="#ffa500"/><use href="#d3" x="4.537" y="9.56" fill="#da70d6"/><use href="#d3" x="4.34" y="9.18" fill="#ffb6c1"/><use href="#d3" x="4.4" y="9.1" fill="#ff6347"/><use href="#d3" x="4.33" y="8.977" fill="#4169e1"/><use href="#d3" x="4.181" y="8.744" fill="#f00"/><use href="#d3" x="4.262" y="9.03" fill="#f4a460"/><use href="#d3" x="4.264" y="9.185" fill="#2e8b57"/><use href="#d3" x="4.453" y="9.167" fill="#c0c0c0"/><use href="#d3" x="4.471" y="9.534" fill="#ee82ee"/><use href="#d3" x="4.242" y="9.114" fill="#f5deb3"/><use href="#d3" x="4.447" y="9.375" fill="#808000"/><use href="#d3" x="4.302" y="9.166" fill="#008080"/><use href="#d3" x="4.32" y="9.16" fill="#b0e0e6"/><use href="#d3" x="4.633" y="9.62" fill="#cd853f"/><use href="#d3" x="4.189" y="8.959" fill="#8b0000"/><use href="#d3" x="4.259" y="9.178" fill="#f0f"/><use href="#d3" x="4.311" y="8.844" fill="#0f0"/><use href="#d3" x="4.464" y="9.68" fill="#87cefa"/><use href="#d3" x="4.443" y="9.172" fill="#20b2aa"/><use href="#d3" x="4.372" y="9.163" fill="#ffdead"/><use href="#d3" x="4.356" y="9.169" fill="#778899"/>
<use href="#k3" x="4.433" y="9.267"/>
</g>
<rect x="31.25" y="103.25" width="478.5" height="478.5" rx="3" fill="none" stroke="#000" stroke-width="2.5"/>
<path d="M505 123h11M505 208.5h11M505 294h11M505 379.5h11M505 464.9h11M505 550.4h11M54.4 577v11M125.1 577v11M195.8 577v11M266.5 577v11M337.2 577v11M407.9 577v11M478.6 577v11" stroke="#000" stroke-width="2"/>
<g font-size="13.5" fill="#111"><text x="520" y="127.7">10,5</text><text x="520" y="213.2">10</text><text x="520" y="298.7">9,5</text><text x="520" y="384.2">9</text><text x="520" y="469.6">8,5</text><text x="520" y="555.1">8</text>
<g text-anchor="middle"><text x="54.4" y="605">3,8</text><text x="125.1" y="605">4</text><text x="195.8" y="605">4,2</text><text x="266.5" y="605">4,4</text><text x="337.2" y="605">4,6</text><text x="407.9" y="605">4,8</text><text x="478.6" y="605">5</text></g></g>
<g font-weight="bold"><text x="531" y="117.5" font-size="16">B</text><text x="31" y="625" font-size="16">A</text><text x="518" y="625" font-size="14.5" text-anchor="end">[ukat/l]</text></g>
</svg>
<div class="ev">Evaluation for LabCode 151</div>
<svg class="lg" width="115" height="62"><g fill="none" stroke="#2d6cb5" stroke-width=".8"><circle cx="18.5" cy="10" r="5.3"/><ellipse cx="18.5" cy="10" rx="2.4" ry="5.3"/><path d="M13.2 10h10.6M14 7h9M14 13h9"/></g><text x="10" y="38" font-size="31" font-weight="bold" font-style="italic" fill="#1e63b5" letter-spacing="-1.5">ifcc</text><path d="M12.5 39l-3.2 20h3l3.2-20z" fill="#1e63b5"/><g font-size="6.4" font-style="italic" fill="#2d6cb5"><text x="30" y="45">International Federation</text><text x="28" y="51.5">of Clinical Chemistry</text><text x="26" y="58">and Laboratory Medicine</text></g></svg>
<div class="rl"><b class="x1">RELA 2021</b><b class="x2">16.08.21</b></div>
<div class="hb"></div>
<b class="h hs" style="left:570px">LabCode</b><b class="h" style="left:660px">A</b><span class="h hs" style="left:700px">e.u.</span><b class="h" style="left:760px">B</b><span class="h hs" style="left:810px">e.u.</span><span class="h hs" style="left:860px">method</span>
<div class="tb">
<div class="r"><i style="border-color:#f0f"></i><b>4,278</b><span>0,120</span><b>8,854</b><span>0,247</span><span>Kinetic spectroscopy</span></div>
<div class="r"><i style="border-color:#8b0000"></i><b>4,316</b><span>0,102</span><b>8,923</b><span>0,210</span><span>Kinetic spectroscopy</span></div>
<div class="r"><i style="border-color:#cd853f"></i><b>4,415</b><span>0,213</span><b>9,082</b><span>0,434</span><span>Kinetic spectroscopy</span></div>
<div class="r"><i style="border-color:#0f0"></i><b>4,544</b><span>0,127</span><b>9,589</b><span>0,268</span><span>Kinetic spectroscopy</span></div>
<div class="r"><i style="border-color:#87cefa"></i><b>4,361</b><span>0,115</span><b>9,195</b><span>0,383</span><span>Kinetic spectroscopy</span></div>
<div class="r"><i style="border-color:#20b2aa"></i><b>4,303</b><span>0,12</span><b>8,938</b><span>0,25</span><span>Kinetic spectroscopy</span></div>
<div class="r"><i style="border-color:#ffdead"></i><b>4,37</b><span>0,116</span><b>9,163</b><span>0,235</span><span>Kinetic spectroscopy</span></div>
<div class="r"><i style="border-color:#778899"></i><b>4,349</b><span>0,117</span><b>9,115</b><span>0,235</span><span>Kinetic spectroscopy</span></div>
<div class="r"><i style="border-color:#000080"></i><b>4,384</b><span>0,123</span><b>9,152</b><span>0,275</span><span>Kinetic spectroscopy</span></div>
<div class="r"><i style="border-color:#ffa500"></i><b>4,319</b><span>0,133</span><b>9,108</b><span>0,318</span><span>Kinetic spectroscopy</span></div>
<div class="r"><i style="border-color:#da70d6"></i><b>4,537</b><span>0,146</span><b>9,56</b><span>0,397</span><span>Kinetic spectroscopy</span></div>
<div class="r"><i style="border-color:#ffb6c1"></i><b>4,34</b><span>0,1</span><b>9,18</b><span>0,2</span><span>Kinetic spectroscopy</span></div>
<div class="r"><i style="border-color:#ff6347"></i><b>4,4</b><span>0,11</span><b>9,1</b><span>0,21</span><span>Kinetic spectroscopy</span></div>
<div class="r"><i style="border-color:#4169e1"></i><b>4,33</b><span>0,16</span><b>8,977</b><span>0,33</span><span>Kinetic spectroscopy</span></div>
<div class="r"><i style="border-color:#f00"></i><b>4,181</b><span>0,041</span><b>8,744</b><span>0,413</span><span>Kinetic spectroscopy</span></div>
<div class="r"><i style="border-color:#f4a460"></i><b>4,262</b><span>0,068</span><b>9,03</b><span>0,14</span><span>Kinetic spectroscopy</span></div>
<div class="r"><i style="border-color:#2e8b57"></i><b>4,264</b><span>0,087</span><b>9,185</b><span>0,174</span><span>Kinetic spectroscopy</span></div>
<div class="r"><i style="border-color:#c0c0c0"></i><b>4,453</b><span>0,116</span><b>9,167</b><span>0,264</span><span>Kinetic spectroscopy</span></div>
<div class="r"><i style="border-color:#ee82ee"></i><b>4,471</b><span>0,025</span><b>9,534</b><span>0,036</span><span>Kinetic spectroscopy</span></div>
<div class="r"><i style="border-color:#f5deb3"></i><b>4,242</b><span>0,117</span><b>9,114</b><span>0,225</span><span>Kinetic spectroscopy</span></div>
<div class="r"><i style="border-color:#808000"></i><b>4,447</b><span>0,138</span><b>9,375</b><span>0,266</span><span>Kinetic spectroscopy</span></div>
<div class="r"><i style="border-color:#008080"></i><b>4,302</b><span>0,082</span><b>9,166</b><span>0,087</span><span>Kinetic spectroscopy</span></div>
<div class="r"><strong>151</strong><i style="border-color:#000"></i><b>4,433</b><span>0,137</span><b>9,267</b><span>0,287</span><span>Kinetic spectroscopy</span></div>
<div class="r"><i style="border-color:#b0e0e6"></i><b>4,32</b><span>0,13</span><b>9,16</b><span>0,29</span><span>Kinetic spectroscopy</span></div>
<div class="r"><i style="border-color:#cd853f"></i><b>4,633</b><span>0,126</span><b>9,62</b><span>0,254</span><span>Kinetic spectroscopy</span></div>
<div class="r"><i style="border-color:#8b0000"></i><b>4,189</b><span>0,090</span><b>8,959</b><span>0,189</span><span>Kinetic spectroscopy</span></div>
<div class="r"><i style="border-color:#f0f"></i><b>4,259</b><span>0,094</span><b>9,178</b><span>0,115</span><span>Kinetic spectroscopy</span></div>
<div class="r"><i style="border-color:#0f0"></i><b>4,311</b><span>0,158</span><b>8,844</b><span>0,328</span><span>Kinetic spectroscopy</span></div>
<div class="r"><i style="border-color:#87cefa"></i><b>4,464</b><span>0,106</span><b>9,68</b><span>0,243</span><span>Kinetic spectroscopy</span></div>
<div class="r"><i style="border-color:#20b2aa"></i><b>4,443</b><span>0,147</span><b>9,172</b><span>0,266</span><span>Kinetic spectroscopy</span></div>
<div class="r"><i style="border-color:#ffdead"></i><b>4,372</b><span>0,123</span><b>9,163</b><span>0,257</span><span>Kinetic spectroscopy</span></div>
<div class="r"><i style="border-color:#778899"></i><b>4,356</b><span>0,135</span><b>9,169</b><span>0,238</span><span>Kinetic spectroscopy</span></div>
</div>
</div>

<!-- ================= AST ================= -->
<div class="p" style="left:1083px;top:1115px">
<div class="ti">AST</div><div class="ul"></div><div class="g"></div>
<svg class="ch" width="560" height="640"><defs><clipPath id="c4"><rect x="31" y="103" width="479" height="479"/></clipPath><rect id="R4" x="-1" y="-1" width="2" height="2" fill="none" stroke-width="1.5" vector-effect="non-scaling-stroke"/><g id="d4" transform="scale(.0027056 .0037467)"><circle r="5"/><circle r="1.4" fill="#fff"/></g><g id="k4" transform="scale(.0027056 .0037467)"><circle r="6.5" fill="#000"/><circle r="2.8" fill="#fff"/></g></defs>
<g clip-path="url(#c4)"><g transform="matrix(369.6 0 0 -266.9 -856.6 1383)" stroke-opacity=".7">
<use href="#R4" transform="translate(3.219 4.185) scale(.076 .096)" stroke="#f0f"/>
<use href="#R4" transform="translate(3.198 4.161) scale(.081 .1)" stroke="#8b0000"/>
<use href="#R4" transform="translate(3.092 4.095) scale(.084 .107)" stroke="#cd853f"/>
<use href="#R4" transform="translate(3.187 4.187) scale(.107 .134)" stroke="#0f0"/>
<use href="#R4" transform="translate(3.188 4.177) scale(.08 .104)" stroke="#87cefa"/>
<use href="#R4" transform="translate(3.2 4.1) scale(.1 .12)" stroke="#20b2aa"/>
<use href="#R4" transform="translate(2.55 3.311) scale(.064 .083)" stroke="#ffdead"/>
<use href="#R4" transform="translate(3.225 4.234) scale(.068 .123)" stroke="#778899"/>
<use href="#R4" transform="translate(3.159 4.133) scale(.14 .18)" stroke="#000080"/>
<use href="#R4" transform="translate(3.221 4.16) scale(.066 .104)" stroke="#ffa500"/>
<use href="#R4" transform="translate(3.175 4.176) scale(.101 .138)" stroke="#da70d6"/>
<use href="#R4" transform="translate(3.241 4.301) scale(.098 .126)" stroke="#ffb6c1"/>
<use href="#R4" transform="translate(3.229 4.221) scale(.119 .119)" stroke="#ff6347"/>
<use href="#R4" transform="translate(3.268 4.267) scale(.087 .072)" stroke="#4169e1"/>
<use href="#R4" transform="translate(3.205 4.235) scale(.066 .1)" stroke="#f00"/>
<use href="#R4" transform="translate(3.171 4.16) scale(.085 .1)" stroke="#f4a460"/>
<use href="#R4" transform="translate(3.158 4.138) scale(.072 .092)" stroke="#2e8b57"/>
<use href="#R4" transform="translate(3.17 4.18) scale(.09 .11)" stroke="#c0c0c0"/>
<use href="#R4" transform="translate(3.214 4.115) scale(.053 .066)" stroke="#ee82ee"/>
<use href="#R4" transform="translate(2.991 4.21) scale(.036 .127)" stroke="#f5deb3"/>
<use href="#R4" transform="translate(3.258 4.205) scale(.081 .066)" stroke="#808000"/>
<use href="#R4" transform="translate(3.209 4.284) scale(.077 .117)" stroke="#008080"/>
<use href="#R4" transform="translate(3.221 4.253) scale(.09 .113)" stroke="#d8bfd8"/>
<use href="#R4" transform="translate(3.313 4.495) scale(.033 .046)" stroke="#b0e0e6"/>
<use href="#R4" transform="translate(3.249 4.186) scale(.069 .084)" stroke="#cd853f"/>
<use href="#R4" transform="translate(3.25 4.282) scale(.073 .093)" stroke="#8b0000"/>
<use href="#R4" transform="translate(3.186 4.25) scale(.022 .051)" stroke="#f0f"/>
<use href="#R4" transform="translate(3.267 4.333) scale(.095 .128)" stroke="#000"/>
<use href="#R4" transform="translate(3.22 4.23) scale(.1 .13)" stroke="#87cefa"/>
<use href="#R4" transform="translate(3.206 4.211) scale(.093 .113)" stroke="#20b2aa"/>
<use href="#R4" transform="translate(3.196 4.115) scale(.05 .065)" stroke="#ffdead"/>
<use href="#R4" transform="translate(3.264 4.189) scale(.049 .054)" stroke="#778899"/>
<use href="#R4" transform="translate(3.286 4.265) scale(.163 .202)" stroke="#000080"/>
<use href="#R4" transform="translate(2.946 4.171) scale(.084 .092)" stroke="#ffa500"/>
<use href="#R4" transform="translate(3.244 4.259) scale(.094 .115)" stroke="#da70d6"/>
<use href="#R4" transform="translate(3.2 4.098) scale(.068 .085)" stroke="#ffb6c1"/>
<use href="#R4" transform="translate(3.221 4.16) scale(.071 .087)" stroke="#ff6347"/>
</g></g>
<g transform="matrix(369.6 0 0 -266.9 -856.6 1383)">
<use href="#d4" x="3.219" y="4.185" fill="#f0f"/><use href="#d4" x="3.198" y="4.161" fill="#8b0000"/><use href="#d4" x="3.092" y="4.095" fill="#cd853f"/><use href="#d4" x="3.187" y="4.187" fill="#0f0"/><use href="#d4" x="3.188" y="4.177" fill="#87cefa"/><use href="#d4" x="3.2" y="4.1" fill="#20b2aa"/><use href="#d4" x="2.55" y="3.311" fill="#ffdead"/><use href="#d4" x="3.225" y="4.234" fill="#778899"/><use href="#d4" x="3.159" y="4.133" fill="#000080"/><use href="#d4" x="3.221" y="4.16" fill="#ffa500"/><use href="#d4" x="3.175" y="4.176" fill="#da70d6"/><use href="#d4" x="3.241" y="4.301" fill="#ffb6c1"/><use href="#d4" x="3.229" y="4.221" fill="#ff6347"/><use href="#d4" x="3.268" y="4.267" fill="#4169e1"/><use href="#d4" x="3.205" y="4.235" fill="#f00"/><use href="#d4" x="3.171" y="4.16" fill="#f4a460"/><use href="#d4" x="3.158" y="4.138" fill="#2e8b57"/><use href="#d4" x="3.17" y="4.18" fill="#c0c0c0"/><use href="#d4" x="3.214" y="4.115" fill="#ee82ee"/><use href="#d4" x="2.991" y="4.21" fill="#f5deb3"/><use href="#d4" x="3.258" y="4.205" fill="#808000"/><use href="#d4" x="3.209" y="4.284" fill="#008080"/><use href="#d4" x="3.221" y="4.253" fill="#d8bfd8"/><use href="#d4" x="3.313" y="4.495" fill="#b0e0e6"/><use href="#d4" x="3.249" y="4.186" fill="#cd853f"/><use href="#d4" x="3.25" y="4.282" fill="#8b0000"/><use href="#d4" x="3.186" y="4.25" fill="#f0f"/><use href="#d4" x="3.22" y="4.23" fill="#87cefa"/><use href="#d4" x="3.206" y="4.211" fill="#20b2aa"/><use href="#d4" x="3.196" y="4.115" fill="#ffdead"/><use href="#d4" x="3.264" y="4.189" fill="#778899"/><use href="#d4" x="3.286" y="4.265" fill="#000080"/><use href="#d4" x="2.946" y="4.171" fill="#ffa500"/><use href="#d4" x="3.244" y="4.259" fill="#da70d6"/><use href="#d4" x="3.2" y="4.098" fill="#ffb6c1"/><use href="#d4" x="3.221" y="4.16" fill="#ff6347"/>
<use href="#k4" x="3.267" y="4.333"/>
</g>
<rect x="31.25" y="103.25" width="478.5" height="478.5" rx="3" fill="none" stroke="#000" stroke-width="2.5"/>
<path d="M505 182h11M505 315.4h11M505 448.9h11M104.4 577v11M178.3 577v11M252.2 577v11M326.1 577v11M400 577v11M474 577v11" stroke="#000" stroke-width="2"/>
<g font-size="13.5" fill="#111"><text x="520" y="186.7">4,5</text><text x="520" y="320.1">4</text><text x="520" y="453.6">3,5</text>
<g text-anchor="middle"><text x="104.4" y="605">2,6</text><text x="178.3" y="605">2,8</text><text x="252.2" y="605">3</text><text x="326.1" y="605">3,2</text><text x="400" y="605">3,4</text><text x="474" y="605">3,6</text></g></g>
<g font-weight="bold"><text x="531" y="117.5" font-size="16">B</text><text x="31" y="625" font-size="16">A</text><text x="518" y="625" font-size="14.5" text-anchor="end">[ukat/l]</text></g>
</svg>
<div class="ev">Evaluation for LabCode 151</div>
<svg class="lg" width="115" height="62"><g fill="none" stroke="#2d6cb5" stroke-width=".8"><circle cx="18.5" cy="10" r="5.3"/><ellipse cx="18.5" cy="10" rx="2.4" ry="5.3"/><path d="M13.2 10h10.6M14 7h9M14 13h9"/></g><text x="10" y="38" font-size="31" font-weight="bold" font-style="italic" fill="#1e63b5" letter-spacing="-1.5">ifcc</text><path d="M12.5 39l-3.2 20h3l3.2-20z" fill="#1e63b5"/><g font-size="6.4" font-style="italic" fill="#2d6cb5"><text x="30" y="45">International Federation</text><text x="28" y="51.5">of Clinical Chemistry</text><text x="26" y="58">and Laboratory Medicine</text></g></svg>
<div class="rl"><b class="x1">RELA 2021</b><b class="x2">16.08.21</b></div>
<div class="hb"></div>
<b class="h hs" style="left:570px">LabCode</b><b class="h" style="left:660px">A</b><span class="h hs" style="left:700px">e.u.</span><b class="h" style="left:760px">B</b><span class="h hs" style="left:810px">e.u.</span><span class="h hs" style="left:860px">method</span>
<div class="tb">
<div class="r"><i style="border-color:#f0f"></i><b>3,219</b><span>0,076</span><b>4,185</b><span>0,096</span><span>Kinetic spectroscopy</span></div>
<div class="r"><i style="border-color:#8b0000"></i><b>3,198</b><span>0,081</span><b>4,161</b><span>0,100</span><span>Kinetic spectroscopy</span></div>
<div class="r"><i style="border-color:#cd853f"></i><b>3,092</b><span>0,084</span><b>4,095</b><span>0,107</span><span>Kinetic spectroscopy</span></div>
<div class="r"><i style="border-color:#0f0"></i><b>3,187</b><span>0,107</span><b>4,187</b><span>0,134</span><span>Kinetic spectroscopy</span></div>
<div class="r"><i style="border-color:#87cefa"></i><b>3,188</b><span>0,080</span><b>4,177</b><span>0,104</span><span>Kinetic spectroscopy</span></div>
<div class="r"><i style="border-color:#20b2aa"></i><b>3,2</b><span>0,1</span><b>4,1</b><span>0,12</span><span>Kinetic spectroscopy</span></div>
<div class="r"><i style="border-color:#ffdead"></i><b>2,55</b><span>0,064</span><b>3,311</b><span>0,083</span><span>Kinetic spectroscopy</span></div>
<div class="r"><i style="border-color:#778899"></i><b>3,225</b><span>0,068</span><b>4,234</b><span>0,123</span><span>Kinetic spectroscopy</span></div>
<div class="r"><i style="border-color:#000080"></i><b>3,159</b><span>0,14</span><b>4,133</b><span>0,18</span><span>Kinetic spectroscopy</span></div>
<div class="r"><i style="border-color:#ffa500"></i><b>3,221</b><span>0,066</span><b>4,16</b><span>0,104</span><span>Kinetic spectroscopy</span></div>
<div class="r"><i style="border-color:#da70d6"></i><b>3,175</b><span>0,101</span><b>4,176</b><span>0,138</span><span>Kinetic spectroscopy</span></div>
<div class="r"><i style="border-color:#ffb6c1"></i><b>3,241</b><span>0,098</span><b>4,301</b><span>0,126</span><span>Kinetic spectroscopy</span></div>
<div class="r"><i style="border-color:#ff6347"></i><b>3,229</b><span>0,119</span><b>4,221</b><span>0,119</span><span>Kinetic spectroscopy</span></div>
<div class="r"><i style="border-color:#4169e1"></i><b>3,268</b><span>0,087</span><b>4,267</b><span>0,072</span><span>Kinetic spectroscopy</span></div>
<div class="r"><i style="border-color:#f00"></i><b>3,205</b><span>0,066</span><b>4,235</b><span>0,1</span><span>Kinetic spectroscopy</span></div>
<div class="r"><i style="border-color:#f4a460"></i><b>3,171</b><span>0,085</span><b>4,16</b><span>0,1</span><span>Kinetic spectroscopy</span></div>
<div class="r"><i style="border-color:#2e8b57"></i><b>3,158</b><span>0,072</span><b>4,138</b><span>0,092</span><span>Kinetic spectroscopy</span></div>
<div class="r"><i style="border-color:#c0c0c0"></i><b>3,17</b><span>0,090</span><b>4,18</b><span>0,11</span><span>Kinetic spectroscopy</span></div>
<div class="r"><i style="border-color:#ee82ee"></i><b>3,214</b><span>0,053</span><b>4,115</b><span>0,066</span><span>Kinetic spectroscopy</span></div>
<div class="r"><i style="border-color:#f5deb3"></i><b>2,991</b><span>0,036</span><b>4,21</b><span>0,127</span><span>Kinetic spectroscopy</span></div>
<div class="r"><i style="border-color:#808000"></i><b>3,258</b><span>0,081</span><b>4,205</b><span>0,066</span><span>Kinetic spectroscopy</span></div>
<div class="r"><i style="border-color:#008080"></i><b>3,209</b><span>0,077</span><b>4,284</b><span>0,117</span><span>Kinetic spectroscopy</span></div>
<div class="r"><i style="border-color:#d8bfd8"></i><b>3,221</b><span>0,090</span><b>4,253</b><span>0,113</span><span>Kinetic spectroscopy</span></div>
<div class="r"><i style="border-color:#b0e0e6"></i><b>3,313</b><span>0,033</span><b>4,495</b><span>0,046</span><span>Kinetic spectroscopy</span></div>
<div class="r"><i style="border-color:#cd853f"></i><b>3,249</b><span>0,069</span><b>4,186</b><span>0,084</span><span>Kinetic spectroscopy</span></div>
<div class="r"><i style="border-color:#8b0000"></i><b>3,25</b><span>0,073</span><b>4,282</b><span>0,093</span><span>Kinetic spectroscopy</span></div>
<div class="r"><i style="border-color:#f0f"></i><b>3,186</b><span>0,022</span><b>4,25</b><span>0,051</span><span>Kinetic spectroscopy</span></div>
<div class="r"><strong>151</strong><i style="border-color:#000"></i><b>3,267</b><span>0,095</span><b>4,333</b><span>0,128</span><span>Kinetic spectroscopy</span></div>
<div class="r"><i style="border-color:#87cefa"></i><b>3,22</b><span>0,1</span><b>4,23</b><span>0,13</span><span>Kinetic spectroscopy</span></div>
<div class="r"><i style="border-color:#20b2aa"></i><b>3,206</b><span>0,093</span><b>4,211</b><span>0,113</span><span>Kinetic spectroscopy</span></div>
<div class="r"><i style="border-color:#ffdead"></i><b>3,196</b><span>0,050</span><b>4,115</b><span>0,065</span><span>Kinetic spectroscopy</span></div>
<div class="r"><i style="border-color:#778899"></i><b>3,264</b><span>0,049</span><b>4,189</b><span>0,054</span><span>Kinetic spectroscopy</span></div>
<div class="r"><i style="border-color:#000080"></i><b>3,286</b><span>0,163</span><b>4,265</b><span>0,202</span><span>Kinetic spectroscopy</span></div>
<div class="r"><i style="border-color:#ffa500"></i><b>2,946</b><span>0,084</span><b>4,171</b><span>0,092</span><span>Kinetic spectroscopy</span></div>
<div class="r"><i style="border-color:#da70d6"></i><b>3,244</b><span>0,094</span><b>4,259</b><span>0,115</span><span>Kinetic spectroscopy</span></div>
<div class="r"><i style="border-color:#ffb6c1"></i><b>3,2</b><span>0,068</span><b>4,098</b><span>0,085</span><span>Kinetic spectroscopy</span></div>
<div class="r"><i style="border-color:#ff6347"></i><b>3,221</b><span>0,071</span><b>4,16</b><span>0,087</span><span>Kinetic spectroscopy</span></div>
</div>
</div>

<!-- ================= CK ================= -->
<div class="p" style="left:0;top:2153px">
<div class="ti">CK</div><div class="ul"></div><div class="g"></div>
<svg class="ch" width="560" height="640"><defs><clipPath id="c5"><rect x="31" y="103" width="479" height="479"/></clipPath><rect id="R5" x="-1" y="-1" width="2" height="2" fill="none" stroke-width="1.5" vector-effect="non-scaling-stroke"/><g id="d5" transform="scale(.0031201 .0016694)"><circle r="5"/><circle r="1.4" fill="#fff"/></g><g id="k5" transform="scale(.0031201 .0016694)"><circle r="6.5" fill="#000"/><circle r="2.8" fill="#fff"/></g></defs>
<g clip-path="url(#c5)"><g transform="matrix(320.5 0 0 -599 -1188.2 2318.7)" stroke-opacity=".7">
<use href="#R5" transform="translate(4.712 3.422) scale(.125 .081)" stroke="#f0f"/>
<use href="#R5" transform="translate(4.648 3.312) scale(.116 .086)" stroke="#8b0000"/>
<use href="#R5" transform="translate(4.51 3.18) scale(.14 .1)" stroke="#cd853f"/>
<use href="#R5" transform="translate(4.553 3.273) scale(.219 .133)" stroke="#0f0"/>
<use href="#R5" transform="translate(4.402 3.246) scale(.11 .085)" stroke="#87cefa"/>
<use href="#R5" transform="translate(4.336 3.227) scale(.118 .084)" stroke="#20b2aa"/>
<use href="#R5" transform="translate(4.543 3.293) scale(.108 .099)" stroke="#ffdead"/>
<use href="#R5" transform="translate(4.796 3.437) scale(.125 .09)" stroke="#778899"/>
<use href="#R5" transform="translate(4.573 3.313) scale(.219 .177)" stroke="#000080"/>
<use href="#R5" transform="translate(4.274 3.261) scale(.106 .069)" stroke="#ffa500"/>
<use href="#R5" transform="translate(4.569 3.267) scale(.107 .065)" stroke="#da70d6"/>
<use href="#R5" transform="translate(4.56 3.288) scale(.12 .087)" stroke="#ffb6c1"/>
<use href="#R5" transform="translate(4.48 3.276) scale(.094 .064)" stroke="#ff6347"/>
<use href="#R5" transform="translate(4.7 3.33) scale(.12 .08)" stroke="#4169e1"/>
<use href="#R5" transform="translate(4.559 3.275) scale(.089 .06)" stroke="#f00"/>
<use href="#R5" transform="translate(4.452 3.303) scale(.198 .106)" stroke="#f4a460"/>
<use href="#R5" transform="translate(4.526 3.203) scale(.065 .047)" stroke="#2e8b57"/>
<use href="#R5" transform="translate(4.605 3.425) scale(.126 .067)" stroke="#c0c0c0"/>
<use href="#R5" transform="translate(4.621 3.323) scale(.211 .168)" stroke="#ee82ee"/>
<use href="#R5" transform="translate(4.566 3.469) scale(.021 .019)" stroke="#f5deb3"/>
<use href="#R5" transform="translate(4.039 3.093) scale(.11 .088)" stroke="#808000"/>
<use href="#R5" transform="translate(4.58 3.272) scale(.129 .111)" stroke="#008080"/>
<use href="#R5" transform="translate(4.685 3.4) scale(.013 .013)" stroke="#d8bfd8"/>
<use href="#R5" transform="translate(4.4 3.417) scale(.141 .11)" stroke="#000"/>
<use href="#R5" transform="translate(4.7 3.39) scale(.15 .11)" stroke="#cd853f"/>
<use href="#R5" transform="translate(4.896 3.464) scale(.134 .095)" stroke="#8b0000"/>
<use href="#R5" transform="translate(4.533 3.326) scale(.072 .053)" stroke="#f0f"/>
<use href="#R5" transform="translate(4.884 3.218) scale(.068 .047)" stroke="#0f0"/>
<use href="#R5" transform="translate(4.575 3.243) scale(.164 .079)" stroke="#87cefa"/>
<use href="#R5" transform="translate(4.33 3.337) scale(.116 .092)" stroke="#20b2aa"/>
<use href="#R5" transform="translate(4.529 3.289) scale(.126 .086)" stroke="#ffdead"/>
<use href="#R5" transform="translate(4.573 3.309) scale(.099 .069)" stroke="#778899"/>
<use href="#R5" transform="translate(4.367 3.223) scale(.115 .085)" stroke="#000080"/>
</g></g>
<g transform="matrix(320.5 0 0 -599 -1188.2 2318.7)">
<use href="#d5" x="4.712" y="3.422" fill="#f0f"/><use href="#d5" x="4.648" y="3.312" fill="#8b0000"/><use href="#d5" x="4.51" y="3.18" fill="#cd853f"/><use href="#d5" x="4.553" y="3.273" fill="#0f0"/><use href="#d5" x="4.402" y="3.246" fill="#87cefa"/><use href="#d5" x="4.336" y="3.227" fill="#20b2aa"/><use href="#d5" x="4.543" y="3.293" fill="#ffdead"/><use href="#d5" x="4.796" y="3.437" fill="#778899"/><use href="#d5" x="4.573" y="3.313" fill="#000080"/><use href="#d5" x="4.274" y="3.261" fill="#ffa500"/><use href="#d5" x="4.569" y="3.267" fill="#da70d6"/><use href="#d5" x="4.56" y="3.288" fill="#ffb6c1"/><use href="#d5" x="4.48" y="3.276" fill="#ff6347"/><use href="#d5" x="4.7" y="3.33" fill="#4169e1"/><use href="#d5" x="4.559" y="3.275" fill="#f00"/><use href="#d5" x="4.452" y="3.303" fill="#f4a460"/><use href="#d5" x="4.526" y="3.203" fill="#2e8b57"/><use href="#d5" x="4.605" y="3.425" fill="#c0c0c0"/><use href="#d5" x="4.621" y="3.323" fill="#ee82ee"/><use href="#d5" x="4.566" y="3.469" fill="#f5deb3"/><use href="#d5" x="4.039" y="3.093" fill="#808000"/><use href="#d5" x="4.58" y="3.272" fill="#008080"/><use href="#d5" x="4.685" y="3.4" fill="#d8bfd8"/><use href="#d5" x="4.7" y="3.39" fill="#cd853f"/><use href="#d5" x="4.896" y="3.464" fill="#8b0000"/><use href="#d5" x="4.533" y="3.326" fill="#f0f"/><use href="#d5" x="4.884" y="3.218" fill="#0f0"/><use href="#d5" x="4.575" y="3.243" fill="#87cefa"/><use href="#d5" x="4.33" y="3.337" fill="#20b2aa"/><use href="#d5" x="4.529" y="3.289" fill="#ffdead"/><use href="#d5" x="4.573" y="3.309" fill="#778899"/><use href="#d5" x="4.367" y="3.223" fill="#000080"/>
<use href="#k5" x="4.4" y="3.417"/>
</g>
<rect x="31.25" y="103.25" width="478.5" height="478.5" rx="3" fill="none" stroke="#000" stroke-width="2.5"/>
<path d="M505 162.3h11M505 282.1h11M505 401.9h11M505 521.7h11M93.8 577v11M254.1 577v11M414.3 577v11" stroke="#000" stroke-width="2"/>
<g font-size="13.5" fill="#111"><text x="520" y="167">3,6</text><text x="520" y="286.8">3,4</text><text x="520" y="406.6">3,2</text><text x="520" y="526.4">3</text>
<g text-anchor="middle"><text x="93.8" y="605">4</text><text x="254.1" y="605">4,5</text><text x="414.3" y="605">5</text></g></g>
<g font-weight="bold"><text x="531" y="117.5" font-size="16">B</text><text x="31" y="625" font-size="16">A</text><text x="518" y="625" font-size="14.5" text-anchor="end">[ukat/l]</text></g>
</svg>
<div class="ev">Evaluation for LabCode 151</div>
<svg class="lg" width="115" height="62"><g fill="none" stroke="#2d6cb5" stroke-width=".8"><circle cx="18.5" cy="10" r="5.3"/><ellipse cx="18.5" cy="10" rx="2.4" ry="5.3"/><path d="M13.2 10h10.6M14 7h9M14 13h9"/></g><text x="10" y="38" font-size="31" font-weight="bold" font-style="italic" fill="#1e63b5" letter-spacing="-1.5">ifcc</text><path d="M12.5 39l-3.2 20h3l3.2-20z" fill="#1e63b5"/><g font-size="6.4" font-style="italic" fill="#2d6cb5"><text x="30" y="45">International Federation</text><text x="28" y="51.5">of Clinical Chemistry</text><text x="26" y="58">and Laboratory Medicine</text></g></svg>
<div class="rl"><b class="x1">RELA 2021</b><b class="x2">16.08.21</b></div>
<div class="hb"></div>
<b class="h hs" style="left:570px">LabCode</b><b class="h" style="left:660px">A</b><span class="h hs" style="left:700px">e.u.</span><b class="h" style="left:760px">B</b><span class="h hs" style="left:810px">e.u.</span><span class="h hs" style="left:860px">method</span>
<div class="tb">
<div class="r"><i style="border-color:#f0f"></i><b>4,712</b><span>0,125</span><b>3,422</b><span>0,081</span><span>Kinetic spectroscopy</span></div>
<div class="r"><i style="border-color:#8b0000"></i><b>4,648</b><span>0,116</span><b>3,312</b><span>0,086</span><span>Kinetic spectroscopy</span></div>
<div class="r"><i style="border-color:#cd853f"></i><b>4,51</b><span>0,14</span><b>3,18</b><span>0,1</span><span>Kinetic spectroscopy</span></div>
<div class="r"><i style="border-color:#0f0"></i><b>4,553</b><span>0,219</span><b>3,273</b><span>0,133</span><span>Kinetic spectroscopy</span></div>
<div class="r"><i style="border-color:#87cefa"></i><b>4,402</b><span>0,11</span><b>3,246</b><span>0,085</span><span>Kinetic spectroscopy</span></div>
<div class="r"><i style="border-color:#20b2aa"></i><b>4,336</b><span>0,118</span><b>3,227</b><span>0,084</span><span>Kinetic spectroscopy</span></div>
<div class="r"><i style="border-color:#ffdead"></i><b>4,543</b><span>0,108</span><b>3,293</b><span>0,099</span><span>Kinetic spectroscopy</span></div>
<div class="r"><i style="border-color:#778899"></i><b>4,796</b><span>0,125</span><b>3,437</b><span>0,090</span><span>Kinetic spectroscopy</span></div>
<div class="r"><i style="border-color:#000080"></i><b>4,573</b><span>0,219</span><b>3,313</b><span>0,177</span><span>Kinetic spectroscopy</span></div>
<div class="r"><i style="border-color:#ffa500"></i><b>4,274</b><span>0,106</span><b>3,261</b><span>0,069</span><span>Kinetic spectroscopy</span></div>
<div class="r"><i style="border-color:#da70d6"></i><b>4,569</b><span>0,107</span><b>3,267</b><span>0,065</span><span>Kinetic spectroscopy</span></div>
<div class="r"><i style="border-color:#ffb6c1"></i><b>4,56</b><span>0,12</span><b>3,288</b><span>0,087</span><span>Kinetic spectroscopy</span></div>
<div class="r"><i style="border-color:#ff6347"></i><b>4,48</b><span>0,094</span><b>3,276</b><span>0,064</span><span>Kinetic spectroscopy</span></div>
<div class="r"><i style="border-color:#4169e1"></i><b>4,7</b><span>0,12</span><b>3,33</b><span>0,080</span><span>Kinetic spectroscopy</span></div>
<div class="r"><i style="border-color:#f00"></i><b>4,559</b><span>0,089</span><b>3,275</b><span>0,060</span><span>Kinetic spectroscopy</span></div>
<div class="r"><i style="border-color:#f4a460"></i><b>4,452</b><span>0,198</span><b>3,303</b><span>0,106</span><span>Kinetic spectroscopy</span></div>
<div class="r"><i style="border-color:#2e8b57"></i><b>4,526</b><span>0,065</span><b>3,203</b><span>0,047</span><span>Kinetic spectroscopy</span></div>
<div class="r"><i style="border-color:#c0c0c0"></i><b>4,605</b><span>0,126</span><b>3,425</b><span>0,067</span><span>Kinetic spectroscopy</span></div>
<div class="r"><i style="border-color:#ee82ee"></i><b>4,621</b><span>0,211</span><b>3,323</b><span>0,168</span><span>Kinetic spectroscopy</span></div>
<div class="r"><i style="border-color:#f5deb3"></i><b>4,566</b><span>0,021</span><b>3,469</b><span>0,019</span><span>Kinetic spectroscopy</span></div>
<div class="r"><i style="border-color:#808000"></i><b>4,039</b><span>0,11</span><b>3,093</b><span>0,088</span><span>Kinetic spectroscopy</span></div>
<div class="r"><i style="border-color:#008080"></i><b>4,58</b><span>0,129</span><b>3,272</b><span>0,111</span><span>Kinetic spectroscopy</span></div>
<div class="r"><i style="border-color:#d8bfd8"></i><b>4,685</b><span>0,013</span><b>3,4</b><span>0,013</span><span>Kinetic spectroscopy</span></div>
<div class="r"><strong>151</strong><i style="border-color:#000"></i><b>4,4</b><span>0,141</span><b>3,417</b><span>0,11</span><span>Kinetic spectroscopy</span></div>
<div class="r"><i style="border-color:#cd853f"></i><b>4,7</b><span>0,15</span><b>3,39</b><span>0,11</span><span>Kinetic spectroscopy</span></div>
<div class="r"><i style="border-color:#8b0000"></i><b>4,896</b><span>0,134</span><b>3,464</b><span>0,095</span><span>Kinetic spectroscopy</span></div>
<div class="r"><i style="border-color:#f0f"></i><b>4,533</b><span>0,072</span><b>3,326</b><span>0,053</span><span>spectrophotometry</span></div>
<div class="r"><i style="border-color:#0f0"></i><b>4,884</b><span>0,068</span><b>3,218</b><span>0,047</span><span>Kinetic spectroscopy</span></div>
<div class="r"><i style="border-color:#87cefa"></i><b>4,575</b><span>0,164</span><b>3,243</b><span>0,079</span><span>Kinetic spectroscopy</span></div>
<div class="r"><i style="border-color:#20b2aa"></i><b>4,33</b><span>0,116</span><b>3,337</b><span>0,092</span><span>Kinetic spectroscopy</span></div>
<div class="r"><i style="border-color:#ffdead"></i><b>4,529</b><span>0,126</span><b>3,289</b><span>0,086</span><span>Kinetic spectroscopy</span></div>
<div class="r"><i style="border-color:#778899"></i><b>4,573</b><span>0,099</span><b>3,309</b><span>0,069</span><span>Kinetic spectroscopy</span></div>
<div class="r"><i style="border-color:#000080"></i><b>4,367</b><span>0,115</span><b>3,223</b><span>0,085</span><span>Kinetic spectroscopy</span></div>
</div>
</div>

<!-- ================= GGT ================= -->
<div class="p" style="left:1083px;top:2153px">
<div class="ti">GGT</div><div class="ul"></div><div class="g"></div>
<svg class="ch" width="560" height="640"><defs><clipPath id="c6"><rect x="31" y="103" width="479" height="479"/></clipPath><rect id="R6" x="-1" y="-1" width="2" height="2" fill="none" stroke-width="1.5" vector-effect="non-scaling-stroke"/><g id="d6" transform="scale(.001355 .00077658)"><circle r="5"/><circle r="1.4" fill="#fff"/></g><g id="k6" transform="scale(.001355 .00077658)"><circle r="6.5" fill="#000"/><circle r="2.8" fill="#fff"/></g></defs>
<g clip-path="url(#c6)"><g transform="matrix(738 0 0 -1287.7 -2256.5 2446.6)" stroke-opacity=".7">
<use href="#R6" transform="translate(3.54 1.738) scale(.091 .043)" stroke="#f0f"/>
<use href="#R6" transform="translate(3.214 1.57) scale(.074 .04)" stroke="#8b0000"/>
<use href="#R6" transform="translate(3.521 1.67) scale(.094 .043)" stroke="#cd853f"/>
<use href="#R6" transform="translate(3.441 1.651) scale(.083 .04)" stroke="#0f0"/>
<use href="#R6" transform="translate(3.485 1.661) scale(.087 .042)" stroke="#87cefa"/>
<use href="#R6" transform="translate(3.556 1.695) scale(.071 .034)" stroke="#20b2aa"/>
<use href="#R6" transform="translate(3.429 1.642) scale(.063 .048)" stroke="#ffdead"/>
<use href="#R6" transform="translate(3.43 1.632) scale(.082 .037)" stroke="#778899"/>
<use href="#R6" transform="translate(3.469 1.659) scale(.088 .045)" stroke="#000080"/>
<use href="#R6" transform="translate(3.474 1.663) scale(.065 .039)" stroke="#ffa500"/>
<use href="#R6" transform="translate(3.456 1.642) scale(.161 .076)" stroke="#da70d6"/>
<use href="#R6" transform="translate(3.469 1.652) scale(.084 .058)" stroke="#ffb6c1"/>
<use href="#R6" transform="translate(3.417 1.623) scale(.066 .034)" stroke="#ff6347"/>
<use href="#R6" transform="translate(3.445 1.646) scale(.077 .037)" stroke="#4169e1"/>
<use href="#R6" transform="translate(3.494 1.665) scale(.081 .043)" stroke="#f00"/>
<use href="#R6" transform="translate(3.45 1.65) scale(.08 .04)" stroke="#f4a460"/>
<use href="#R6" transform="translate(3.422 1.631) scale(.122 .058)" stroke="#2e8b57"/>
<use href="#R6" transform="translate(3.622 1.681) scale(.017 .084)" stroke="#c0c0c0"/>
<use href="#R6" transform="translate(3.454 1.623) scale(.082 .039)" stroke="#ee82ee"/>
<use href="#R6" transform="translate(3.469 1.648) scale(.088 .038)" stroke="#f5deb3"/>
<use href="#R6" transform="translate(3.477 1.656) scale(.08 .038)" stroke="#808000"/>
<use href="#R6" transform="translate(3.475 1.666) scale(.021 .02)" stroke="#008080"/>
<use href="#R6" transform="translate(3.52 1.68) scale(.096 .051)" stroke="#d8bfd8"/>
<use href="#R6" transform="translate(3.503 1.662) scale(.095 .048)" stroke="#b0e0e6"/>
<use href="#R6" transform="translate(3.518 1.657) scale(.181 .087)" stroke="#cd853f"/>
<use href="#R6" transform="translate(3.491 1.655) scale(.015 .008)" stroke="#8b0000"/>
<use href="#R6" transform="translate(3.467 1.667) scale(.118 .057)" stroke="#000"/>
<use href="#R6" transform="translate(3.48 1.65) scale(.11 .05)" stroke="#0f0"/>
<use href="#R6" transform="translate(3.535 1.669) scale(.129 .061)" stroke="#87cefa"/>
<use href="#R6" transform="translate(3.44 1.607) scale(.081 .043)" stroke="#20b2aa"/>
<use href="#R6" transform="translate(3.521 1.667) scale(.042 .02)" stroke="#ffdead"/>
<use href="#R6" transform="translate(3.447 1.633) scale(.123 .055)" stroke="#778899"/>
<use href="#R6" transform="translate(3.321 1.589) scale(.083 .046)" stroke="#000080"/>
<use href="#R6" transform="translate(3.472 1.647) scale(.101 .038)" stroke="#ffa500"/>
<use href="#R6" transform="translate(3.467 1.656) scale(.073 .036)" stroke="#da70d6"/>
<use href="#R6" transform="translate(3.355 1.606) scale(.067 .032)" stroke="#ffb6c1"/>
<use href="#R6" transform="translate(3.92 1.653) scale(.101 .044)" stroke="#ff6347"/>
</g></g>
<g transform="matrix(738 0 0 -1287.7 -2256.5 2446.6)">
<use href="#d6" x="3.54" y="1.738" fill="#f0f"/><use href="#d6" x="3.214" y="1.57" fill="#8b0000"/><use href="#d6" x="3.521" y="1.67" fill="#cd853f"/><use href="#d6" x="3.441" y="1.651" fill="#0f0"/><use href="#d6" x="3.485" y="1.661" fill="#87cefa"/><use href="#d6" x="3.556" y="1.695" fill="#20b2aa"/><use href="#d6" x="3.429" y="1.642" fill="#ffdead"/><use href="#d6" x="3.43" y="1.632" fill="#778899"/><use href="#d6" x="3.469" y="1.659" fill="#000080"/><use href="#d6" x="3.474" y="1.663" fill="#ffa500"/><use href="#d6" x="3.456" y="1.642" fill="#da70d6"/><use href="#d6" x="3.469" y="1.652" fill="#ffb6c1"/><use href="#d6" x="3.417" y="1.623" fill="#ff6347"/><use href="#d6" x="3.445" y="1.646" fill="#4169e1"/><use href="#d6" x="3.494" y="1.665" fill="#f00"/><use href="#d6" x="3.45" y="1.65" fill="#f4a460"/><use href="#d6" x="3.422" y="1.631" fill="#2e8b57"/><use href="#d6" x="3.622" y="1.681" fill="#c0c0c0"/><use href="#d6" x="3.454" y="1.623" fill="#ee82ee"/><use href="#d6" x="3.469" y="1.648" fill="#f5deb3"/><use href="#d6" x="3.477" y="1.656" fill="#808000"/><use href="#d6" x="3.475" y="1.666" fill="#008080"/><use href="#d6" x="3.52" y="1.68" fill="#d8bfd8"/><use href="#d6" x="3.503" y="1.662" fill="#b0e0e6"/><use href="#d6" x="3.518" y="1.657" fill="#cd853f"/><use href="#d6" x="3.491" y="1.655" fill="#8b0000"/><use href="#d6" x="3.48" y="1.65" fill="#0f0"/><use href="#d6" x="3.535" y="1.669" fill="#87cefa"/><use href="#d6" x="3.44" y="1.607" fill="#20b2aa"/><use href="#d6" x="3.521" y="1.667" fill="#ffdead"/><use href="#d6" x="3.447" y="1.633" fill="#778899"/><use href="#d6" x="3.321" y="1.589" fill="#000080"/><use href="#d6" x="3.472" y="1.647" fill="#ffa500"/><use href="#d6" x="3.467" y="1.656" fill="#da70d6"/><use href="#d6" x="3.355" y="1.606" fill="#ffb6c1"/><use href="#d6" x="3.749" y="1.653" fill="#ff6347"/>
<use href="#k6" x="3.467" y="1.667"/>
</g>
<rect x="31.25" y="103.25" width="478.5" height="478.5" rx="3" fill="none" stroke="#000" stroke-width="2.5"/>
<path d="M505 128.7h11M505 206h11M505 283.3h11M505 360.5h11M505 437.8h11M505 515h11M105.1 577v11M178.9 577v11M252.7 577v11M326.5 577v11M400.3 577v11M474.1 577v11" stroke="#000" stroke-width="2"/>
<g font-size="13.5" fill="#111"><text x="520" y="133.4">1,8</text><text x="520" y="210.7">1,74</text><text x="520" y="288">1,68</text><text x="520" y="365.2">1,62</text><text x="520" y="442.5">1,56</text><text x="520" y="519.7">1,5</text>
<g text-anchor="middle"><text x="105.1" y="605">3,2</text><text x="178.9" y="605">3,3</text><text x="252.7" y="605">3,4</text><text x="326.5" y="605">3,5</text><text x="400.3" y="605">3,6</text><text x="474.1" y="605">3,7</text></g></g>
<g font-weight="bold"><text x="531" y="117.5" font-size="16">B</text><text x="31" y="625" font-size="16">A</text><text x="518" y="625" font-size="14.5" text-anchor="end">[ukat/l]</text></g>
</svg>
<div class="ev">Evaluation for LabCode 151</div>
<svg class="lg" width="115" height="62"><g fill="none" stroke="#2d6cb5" stroke-width=".8"><circle cx="18.5" cy="10" r="5.3"/><ellipse cx="18.5" cy="10" rx="2.4" ry="5.3"/><path d="M13.2 10h10.6M14 7h9M14 13h9"/></g><text x="10" y="38" font-size="31" font-weight="bold" font-style="italic" fill="#1e63b5" letter-spacing="-1.5">ifcc</text><path d="M12.5 39l-3.2 20h3l3.2-20z" fill="#1e63b5"/><g font-size="6.4" font-style="italic" fill="#2d6cb5"><text x="30" y="45">International Federation</text><text x="28" y="51.5">of Clinical Chemistry</text><text x="26" y="58">and Laboratory Medicine</text></g></svg>
<div class="rl"><b class="x1">RELA 2021</b><b class="x2">16.08.21</b></div>
<div class="hb"></div>
<b class="h hs" style="left:570px">LabCode</b><b class="h" style="left:660px">A</b><span class="h hs" style="left:700px">e.u.</span><b class="h" style="left:760px">B</b><span class="h hs" style="left:810px">e.u.</span><span class="h hs" style="left:860px">method</span>
<div class="tb">
<div class="r"><i style="border-color:#f0f"></i><b>3,540</b><span>0,091</span><b>1,738</b><span>0,043</span><span>Kinetic spectroscopy</span></div>
<div class="r"><i style="border-color:#8b0000"></i><b>3,214</b><span>0,074</span><b>1,570</b><span>0,040</span><span>Kinetic spectroscopy</span></div>
<div class="r"><i style="border-color:#cd853f"></i><b>3,521</b><span>0,094</span><b>1,67</b><span>0,043</span><span>Kinetic spectroscopy</span></div>
<div class="r"><i style="border-color:#0f0"></i><b>3,441</b><span>0,083</span><b>1,651</b><span>0,040</span><span>Kinetic spectroscopy</span></div>
<div class="r"><i style="border-color:#87cefa"></i><b>3,485</b><span>0,087</span><b>1,661</b><span>0,042</span><span>Kinetic spectroscopy</span></div>
<div class="r"><i style="border-color:#20b2aa"></i><b>3,556</b><span>0,071</span><b>1,695</b><span>0,034</span><span>Kinetic spectroscopy</span></div>
<div class="r"><i style="border-color:#ffdead"></i><b>3,429</b><span>0,063</span><b>1,642</b><span>0,048</span><span>Kinetic spectroscopy</span></div>
<div class="r"><i style="border-color:#778899"></i><b>3,43</b><span>0,082</span><b>1,632</b><span>0,037</span><span>Kinetic spectroscopy</span></div>
<div class="r"><i style="border-color:#000080"></i><b>3,469</b><span>0,088</span><b>1,659</b><span>0,045</span><span>Kinetic spectroscopy</span></div>
<div class="r"><i style="border-color:#ffa500"></i><b>3,474</b><span>0,065</span><b>1,663</b><span>0,039</span><span>Kinetic spectroscopy</span></div>
<div class="r"><i style="border-color:#da70d6"></i><b>3,456</b><span>0,161</span><b>1,642</b><span>0,076</span><span>Kinetic spectroscopy</span></div>
<div class="r"><i style="border-color:#ffb6c1"></i><b>3,469</b><span>0,084</span><b>1,652</b><span>0,058</span><span>Kinetic spectroscopy</span></div>
<div class="r"><i style="border-color:#ff6347"></i><b>3,417</b><span>0,066</span><b>1,623</b><span>0,034</span><span>Kinetic spectroscopy</span></div>
<div class="r"><i style="border-color:#4169e1"></i><b>3,445</b><span>0,077</span><b>1,646</b><span>0,037</span><span>Kinetic spectroscopy</span></div>
<div class="r"><i style="border-color:#f00"></i><b>3,494</b><span>0,081</span><b>1,665</b><span>0,043</span><span>Kinetic spectroscopy</span></div>
<div class="r"><i style="border-color:#f4a460"></i><b>3,45</b><span>0,080</span><b>1,65</b><span>0,040</span><span>Kinetic spectroscopy</span></div>
<div class="r"><i style="border-color:#2e8b57"></i><b>3,422</b><span>0,122</span><b>1,631</b><span>0,058</span><span>Kinetic spectroscopy</span></div>
<div class="r"><i style="border-color:#c0c0c0"></i><b>3,622</b><span>0,017</span><b>1,681</b><span>0,084</span><span>Kinetic spectroscopy</span></div>
<div class="r"><i style="border-color:#ee82ee"></i><b>3,454</b><span>0,082</span><b>1,623</b><span>0,039</span><span>Kinetic spectroscopy</span></div>
<div class="r"><i style="border-color:#f5deb3"></i><b>3,469</b><span>0,088</span><b>1,648</b><span>0,038</span><span>Kinetic spectroscopy</span></div>
<div class="r"><i style="border-color:#808000"></i><b>3,477</b><span>0,080</span><b>1,656</b><span>0,038</span><span>Kinetic spectroscopy</span></div>
<div class="r"><i style="border-color:#008080"></i><b>3,475</b><span>0,021</span><b>1,666</b><span>0,020</span><span>Kinetic spectroscopy</span></div>
<div class="r"><i style="border-color:#d8bfd8"></i><b>3,52</b><span>0,096</span><b>1,68</b><span>0,051</span><span>Kinetic spectroscopy</span></div>
<div class="r"><i style="border-color:#b0e0e6"></i><b>3,503</b><span>0,095</span><b>1,662</b><span>0,048</span><span>Kinetic spectroscopy</span></div>
<div class="r"><i style="border-color:#cd853f"></i><b>3,518</b><span>0,181</span><b>1,657</b><span>0,087</span><span>Kinetic spectroscopy</span></div>
<div class="r"><i style="border-color:#8b0000"></i><b>3,491</b><span>0,015</span><b>1,655</b><span>0,008</span><span>Kinetic spectroscopy</span></div>
<div class="r"><strong>151</strong><i style="border-color:#000"></i><b>3,467</b><span>0,118</span><b>1,667</b><span>0,057</span><span>Kinetic spectroscopy</span></div>
<div class="r"><i style="border-color:#0f0"></i><b>3,48</b><span>0,11</span><b>1,65</b><span>0,050</span><span>Kinetic spectroscopy</span></div>
<div class="r"><i style="border-color:#87cefa"></i><b>3,535</b><span>0,129</span><b>1,669</b><span>0,061</span><span>Kinetic spectroscopy</span></div>
<div class="r"><i style="border-color:#20b2aa"></i><b>3,44</b><span>0,081</span><b>1,607</b><span>0,043</span><span>Kinetic spectroscopy</span></div>
<div class="r"><i style="border-color:#ffdead"></i><b>3,521</b><span>0,042</span><b>1,667</b><span>0,020</span><span>Kinetic spectroscopy</span></div>
<div class="r"><i style="border-color:#778899"></i><b>3,447</b><span>0,123</span><b>1,633</b><span>0,055</span><span>Kinetic spectroscopy</span></div>
<div class="r"><i style="border-color:#000080"></i><b>3,321</b><span>0,083</span><b>1,589</b><span>0,046</span><span>Kinetic spectroscopy</span></div>
<div class="r"><i style="border-color:#ffa500"></i><b>3,472</b><span>0,101</span><b>1,647</b><span>0,038</span><span>Kinetic spectroscopy</span></div>
<div class="r"><i style="border-color:#da70d6"></i><b>3,467</b><span>0,073</span><b>1,656</b><span>0,036</span><span>Kinetic spectroscopy</span></div>
<div class="r"><i style="border-color:#ffb6c1"></i><b>3,355</b><span>0,067</span><b>1,606</b><span>0,032</span><span>Kinetic spectroscopy</span></div>
<div class="r"><i style="border-color:#ff6347"></i><b>3,92</b><span>0,101</span><b>1,653</b><span>0,044</span><span>Kinetic spectroscopy</span></div>
</div>
</div>

<!-- ================= LDH ================= -->
<div class="p" style="left:0;top:3201px">
<div class="ti">LDH</div><div class="ul"></div><div class="g"></div>
<svg class="ch" width="560" height="640"><defs><clipPath id="c7"><rect x="31" y="103" width="479" height="479"/></clipPath><rect id="R7" x="-1" y="-1" width="2" height="2" fill="none" stroke-width="1.5" vector-effect="non-scaling-stroke"/><g id="d7" transform="scale(.0037523 .0033278)"><circle r="5"/><circle r="1.4" fill="#fff"/></g><g id="k7" transform="scale(.0037523 .0033278)"><circle r="6.5" fill="#000"/><circle r="2.8" fill="#fff"/></g></defs>
<g clip-path="url(#c7)"><g transform="matrix(266.5 0 0 -300.5 -1675.7 2267.2)" stroke-opacity=".7">
<use href="#R7" transform="translate(7.481 6.618) scale(.167 .151)" stroke="#f0f"/>
<use href="#R7" transform="translate(7.184 6.456) scale(.165 .159)" stroke="#8b0000"/>
<use href="#R7" transform="translate(7.204 6.539) scale(.175 .158)" stroke="#cd853f"/>
<use href="#R7" transform="translate(7.285 6.508) scale(.182 .163)" stroke="#0f0"/>
<use href="#R7" transform="translate(7.436 6.621) scale(.355 .316)" stroke="#87cefa"/>
<use href="#R7" transform="translate(7.317 6.557) scale(.154 .176)" stroke="#20b2aa"/>
<use href="#R7" transform="translate(7.37 6.56) scale(.18 .16)" stroke="#ffdead"/>
<use href="#R7" transform="translate(7.413 6.612) scale(.169 .151)" stroke="#778899"/>
<use href="#R7" transform="translate(7.433 6.61) scale(.223 .193)" stroke="#000080"/>
<use href="#R7" transform="translate(7.392 6.557) scale(.211 .187)" stroke="#ffa500"/>
<use href="#R7" transform="translate(7.41 6.695) scale(.237 .205)" stroke="#da70d6"/>
<use href="#R7" transform="translate(7.166 6.419) scale(.128 .111)" stroke="#ffb6c1"/>
<use href="#R7" transform="translate(7.436 6.571) scale(.147 .128)" stroke="#ff6347"/>
<use href="#R7" transform="translate(7.33 6.56) scale(.18 .16)" stroke="#4169e1"/>
<use href="#R7" transform="translate(7.34 6.54) scale(.13 .13)" stroke="#f00"/>
<use href="#R7" transform="translate(7.36 6.49) scale(.18 .15)" stroke="#f4a460"/>
<use href="#R7" transform="translate(7.332 6.53) scale(.12 .11)" stroke="#2e8b57"/>
<use href="#R7" transform="translate(7.442 6.545) scale(.082 .281)" stroke="#c0c0c0"/>
<use href="#R7" transform="translate(7.45 6.62) scale(.12 .11)" stroke="#ee82ee"/>
<use href="#R7" transform="translate(7.348 6.496) scale(.083 .101)" stroke="#f5deb3"/>
<use href="#R7" transform="translate(7.471 6.646) scale(.184 .164)" stroke="#808000"/>
<use href="#R7" transform="translate(7.614 6.761) scale(.013 .017)" stroke="#008080"/>
<use href="#R7" transform="translate(7.731 6.645) scale(.153 .137)" stroke="#d8bfd8"/>
<use href="#R7" transform="translate(7.437 6.617) scale(.156 .144)" stroke="#b0e0e6"/>
<use href="#R7" transform="translate(7.514 6.645) scale(.18 .153)" stroke="#cd853f"/>
<use href="#R7" transform="translate(7.437 6.569) scale(.052 .08)" stroke="#8b0000"/>
<use href="#R7" transform="translate(7.333 6.55) scale(.235 .21)" stroke="#000"/>
<use href="#R7" transform="translate(7.38 6.55) scale(.23 .2)" stroke="#0f0"/>
<use href="#R7" transform="translate(7.578 6.746) scale(.191 .183)" stroke="#87cefa"/>
<use href="#R7" transform="translate(7.385 6.533) scale(.126 .111)" stroke="#20b2aa"/>
<use href="#R7" transform="translate(7.324 6.606) scale(.106 .096)" stroke="#ffdead"/>
<use href="#R7" transform="translate(7.329 6.585) scale(.263 .243)" stroke="#778899"/>
<use href="#R7" transform="translate(6.662 5.905) scale(.15 .14)" stroke="#000080"/>
<use href="#R7" transform="translate(7.323 6.573) scale(.242 .144)" stroke="#ffa500"/>
<use href="#R7" transform="translate(7.331 6.598) scale(.159 .155)" stroke="#da70d6"/>
<use href="#R7" transform="translate(7.413 6.616) scale(.171 .155)" stroke="#ffb6c1"/>
</g></g>
<g transform="matrix(266.5 0 0 -300.5 -1675.7 2267.2)">
<use href="#d7" x="7.481" y="6.618" fill="#f0f"/><use href="#d7" x="7.184" y="6.456" fill="#8b0000"/><use href="#d7" x="7.204" y="6.539" fill="#cd853f"/><use href="#d7" x="7.285" y="6.508" fill="#0f0"/><use href="#d7" x="7.436" y="6.621" fill="#87cefa"/><use href="#d7" x="7.317" y="6.557" fill="#20b2aa"/><use href="#d7" x="7.37" y="6.56" fill="#ffdead"/><use href="#d7" x="7.413" y="6.612" fill="#778899"/><use href="#d7" x="7.433" y="6.61" fill="#000080"/><use href="#d7" x="7.392" y="6.557" fill="#ffa500"/><use href="#d7" x="7.41" y="6.695" fill="#da70d6"/><use href="#d7" x="7.166" y="6.419" fill="#ffb6c1"/><use href="#d7" x="7.436" y="6.571" fill="#ff6347"/><use href="#d7" x="7.33" y="6.56" fill="#4169e1"/><use href="#d7" x="7.34" y="6.54" fill="#f00"/><use href="#d7" x="7.36" y="6.49" fill="#f4a460"/><use href="#d7" x="7.332" y="6.53" fill="#2e8b57"/><use href="#d7" x="7.442" y="6.545" fill="#c0c0c0"/><use href="#d7" x="7.45" y="6.62" fill="#ee82ee"/><use href="#d7" x="7.348" y="6.496" fill="#f5deb3"/><use href="#d7" x="7.471" y="6.646" fill="#808000"/><use href="#d7" x="7.614" y="6.761" fill="#008080"/><use href="#d7" x="7.731" y="6.645" fill="#d8bfd8"/><use href="#d7" x="7.437" y="6.617" fill="#b0e0e6"/><use href="#d7" x="7.514" y="6.645" fill="#cd853f"/><use href="#d7" x="7.437" y="6.569" fill="#8b0000"/><use href="#d7" x="7.38" y="6.55" fill="#0f0"/><use href="#d7" x="7.578" y="6.746" fill="#87cefa"/><use href="#d7" x="7.385" y="6.533" fill="#20b2aa"/><use href="#d7" x="7.324" y="6.606" fill="#ffdead"/><use href="#d7" x="7.329" y="6.585" fill="#778899"/><use href="#d7" x="6.662" y="5.905" fill="#000080"/><use href="#d7" x="7.323" y="6.573" fill="#ffa500"/><use href="#d7" x="7.331" y="6.598" fill="#da70d6"/><use href="#d7" x="7.413" y="6.616" fill="#ffb6c1"/>
<use href="#k7" x="7.333" y="6.55"/>
</g>
<rect x="31.25" y="103.25" width="478.5" height="478.5" rx="3" fill="none" stroke="#000" stroke-width="2.5"/>
<path d="M505 163.7h11M505 314h11M505 464.2h11M56.6 577v11M189.8 577v11M323 577v11M456.3 577v11" stroke="#000" stroke-width="2"/>
<g font-size="13.5" fill="#111"><text x="520" y="168.4">7</text><text x="520" y="318.7">6,5</text><text x="520" y="468.9">6</text>
<g text-anchor="middle"><text x="56.6" y="605">6,5</text><text x="189.8" y="605">7</text><text x="323" y="605">7,5</text><text x="456.3" y="605">8</text></g></g>
<g font-weight="bold"><text x="531" y="117.5" font-size="16">B</text><text x="31" y="625" font-size="16">A</text><text x="518" y="625" font-size="14.5" text-anchor="end">[ukat/l]</text></g>
</svg>
<div class="ev">Evaluation for LabCode 151</div>
<svg class="lg" width="115" height="62"><g fill="none" stroke="#2d6cb5" stroke-width=".8"><circle cx="18.5" cy="10" r="5.3"/><ellipse cx="18.5" cy="10" rx="2.4" ry="5.3"/><path d="M13.2 10h10.6M14 7h9M14 13h9"/></g><text x="10" y="38" font-size="31" font-weight="bold" font-style="italic" fill="#1e63b5" letter-spacing="-1.5">ifcc</text><path d="M12.5 39l-3.2 20h3l3.2-20z" fill="#1e63b5"/><g font-size="6.4" font-style="italic" fill="#2d6cb5"><text x="30" y="45">International Federation</text><text x="28" y="51.5">of Clinical Chemistry</text><text x="26" y="58">and Laboratory Medicine</text></g></svg>
<div class="rl"><b class="x1">RELA 2021</b><b class="x2">16.08.21</b></div>
<div class="hb"></div>
<b class="h hs" style="left:570px">LabCode</b><b class="h" style="left:660px">A</b><span class="h hs" style="left:700px">e.u.</span><b class="h" style="left:760px">B</b><span class="h hs" style="left:810px">e.u.</span><span class="h hs" style="left:860px">method</span>
<div class="tb">
<div class="r"><i style="border-color:#f0f"></i><b>7,481</b><span>0,167</span><b>6,618</b><span>0,151</span><span>Kinetic spectroscopy</span></div>
<div class="r"><i style="border-color:#8b0000"></i><b>7,184</b><span>0,165</span><b>6,456</b><span>0,159</span><span>Kinetic spectroscopy</span></div>
<div class="r"><i style="border-color:#cd853f"></i><b>7,204</b><span>0,175</span><b>6,539</b><span>0,158</span><span>Kinetic spectroscopy</span></div>
<div class="r"><i style="border-color:#0f0"></i><b>7,285</b><span>0,182</span><b>6,508</b><span>0,163</span><span>Kinetic spectroscopy</span></div>
<div class="r"><i style="border-color:#87cefa"></i><b>7,436</b><span>0,355</span><b>6,621</b><span>0,316</span><span>Kinetic spectroscopy</span></div>
<div class="r"><i style="border-color:#20b2aa"></i><b>7,317</b><span>0,154</span><b>6,557</b><span>0,176</span><span>Kinetic spectroscopy</span></div>
<div class="r"><i style="border-color:#ffdead"></i><b>7,37</b><span>0,18</span><b>6,56</b><span>0,16</span><span>Kinetic spectroscopy</span></div>
<div class="r"><i style="border-color:#778899"></i><b>7,413</b><span>0,169</span><b>6,612</b><span>0,151</span><span>Kinetic spectroscopy</span></div>
<div class="r"><i style="border-color:#000080"></i><b>7,433</b><span>0,223</span><b>6,61</b><span>0,193</span><span>Kinetic spectroscopy</span></div>
<div class="r"><i style="border-color:#ffa500"></i><b>7,392</b><span>0,211</span><b>6,557</b><span>0,187</span><span>Kinetic spectroscopy</span></div>
<div class="r"><i style="border-color:#da70d6"></i><b>7,41</b><span>0,237</span><b>6,695</b><span>0,205</span><span>Kinetic spectroscopy</span></div>
<div class="r"><i style="border-color:#ffb6c1"></i><b>7,166</b><span>0,128</span><b>6,419</b><span>0,111</span><span>Kinetic spectroscopy</span></div>
<div class="r"><i style="border-color:#ff6347"></i><b>7,436</b><span>0,147</span><b>6,571</b><span>0,128</span><span>Kinetic spectroscopy</span></div>
<div class="r"><i style="border-color:#4169e1"></i><b>7,33</b><span>0,18</span><b>6,56</b><span>0,16</span><span>Kinetic spectroscopy</span></div>
<div class="r"><i style="border-color:#f00"></i><b>7,34</b><span>0,13</span><b>6,54</b><span>0,13</span><span>Kinetic spectroscopy</span></div>
<div class="r"><i style="border-color:#f4a460"></i><b>7,36</b><span>0,18</span><b>6,49</b><span>0,15</span><span>Kinetic spectroscopy</span></div>
<div class="r"><i style="border-color:#2e8b57"></i><b>7,332</b><span>0,12</span><b>6,53</b><span>0,11</span><span>Kinetic spectroscopy</span></div>
<div class="r"><i style="border-color:#c0c0c0"></i><b>7,442</b><span>0,082</span><b>6,545</b><span>0,281</span><span>Kinetic spectroscopy</span></div>
<div class="r"><i style="border-color:#ee82ee"></i><b>7,45</b><span>0,12</span><b>6,62</b><span>0,11</span><span>Kinetic spectroscopy</span></div>
<div class="r"><i style="border-color:#f5deb3"></i><b>7,348</b><span>0,083</span><b>6,496</b><span>0,101</span><span>Kinetic spectroscopy</span></div>
<div class="r"><i style="border-color:#808000"></i><b>7,471</b><span>0,184</span><b>6,646</b><span>0,164</span><span>Kinetic spectroscopy</span></div>
<div class="r"><i style="border-color:#008080"></i><b>7,614</b><span>0,013</span><b>6,761</b><span>0,017</span><span>Kinetic spectroscopy</span></div>
<div class="r"><i style="border-color:#d8bfd8"></i><b>7,731</b><span>0,153</span><b>6,645</b><span>0,137</span><span>Kinetic spectroscopy</span></div>
<div class="r"><i style="border-color:#b0e0e6"></i><b>7,437</b><span>0,156</span><b>6,617</b><span>0,144</span><span>Kinetic spectroscopy</span></div>
<div class="r"><i style="border-color:#cd853f"></i><b>7,514</b><span>0,18</span><b>6,645</b><span>0,153</span><span>Kinetic spectroscopy</span></div>
<div class="r"><i style="border-color:#8b0000"></i><b>7,437</b><span>0,052</span><b>6,569</b><span>0,080</span><span>Kinetic spectroscopy</span></div>
<div class="r"><strong>151</strong><i style="border-color:#000"></i><b>7,333</b><span>0,235</span><b>6,55</b><span>0,21</span><span>Kinetic spectroscopy</span></div>
<div class="r"><i style="border-color:#0f0"></i><b>7,38</b><span>0,23</span><b>6,55</b><span>0,2</span><span>Kinetic spectroscopy</span></div>
<div class="r"><i style="border-color:#87cefa"></i><b>7,578</b><span>0,191</span><b>6,746</b><span>0,183</span><span>Kinetic spectroscopy</span></div>
<div class="r"><i style="border-color:#20b2aa"></i><b>7,385</b><span>0,126</span><b>6,533</b><span>0,111</span><span>Kinetic spectroscopy</span></div>
<div class="r"><i style="border-color:#ffdead"></i><b>7,324</b><span>0,106</span><b>6,606</b><span>0,096</span><span>Kinetic spectroscopy</span></div>
<div class="r"><i style="border-color:#778899"></i><b>7,329</b><span>0,263</span><b>6,585</b><span>0,243</span><span>Kinetic spectroscopy</span></div>
<div class="r"><i style="border-color:#000080"></i><b>6,662</b><span>0,15</span><b>5,905</b><span>0,14</span><span>Kinetic spectroscopy</span></div>
<div class="r"><i style="border-color:#ffa500"></i><b>7,323</b><span>0,242</span><b>6,573</b><span>0,144</span><span>Kinetic spectroscopy</span></div>
<div class="r"><i style="border-color:#da70d6"></i><b>7,331</b><span>0,159</span><b>6,598</b><span>0,155</span><span>Kinetic spectroscopy</span></div>
<div class="r"><i style="border-color:#ffb6c1"></i><b>7,413</b><span>0,171</span><b>6,616</b><span>0,155</span><span>Kinetic spectroscopy</span></div>
</div>
</div>

</body></html>
